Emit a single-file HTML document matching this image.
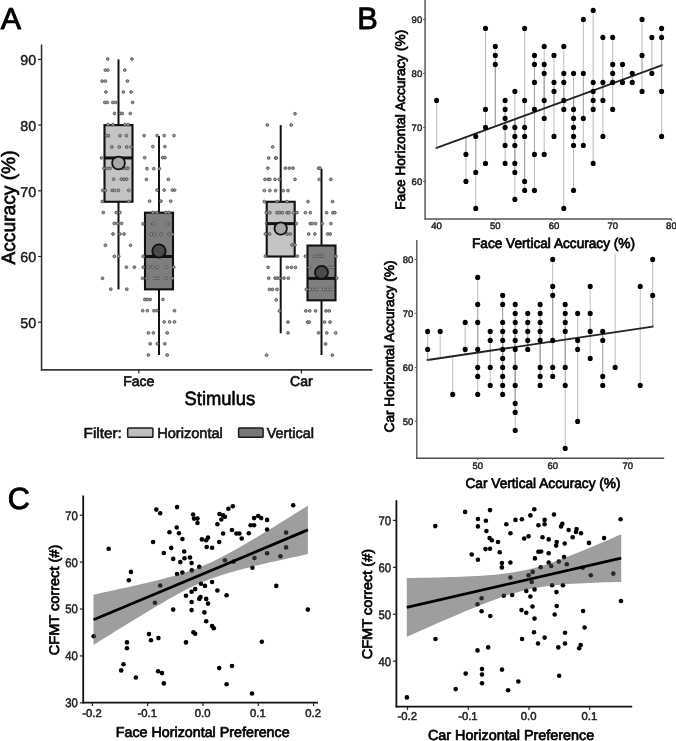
<!DOCTYPE html>
<html><head><meta charset="utf-8"><title>Figure</title>
<style>
html,body{margin:0;padding:0;background:#fff;}
body{width:676px;height:741px;overflow:hidden;}
svg{display:block;font-family:"Liberation Sans", sans-serif;will-change:transform;text-rendering:geometricPrecision;}
</style></head>
<body>
<svg width="676" height="741" viewBox="0 0 676 741">
<rect width="676" height="741" fill="#fff"/>
<text x="0.70" y="28.70" font-size="30.4" font-weight="normal" fill="#000" text-anchor="start" stroke="#000" stroke-width="0.9">A</text>
<line x1="41.55" y1="44.50" x2="41.55" y2="370.80" stroke="#2a2a2a" stroke-width="1.5" />
<line x1="40.85" y1="369.90" x2="372.40" y2="369.90" stroke="#3a3a3a" stroke-width="1.8" />
<line x1="38.15" y1="59.40" x2="41.55" y2="59.40" stroke="#222" stroke-width="1.2" />
<text x="36.20" y="65.10" font-size="14.25" font-weight="normal" fill="#1a1a1a" text-anchor="end" stroke="#1a1a1a" stroke-width="0.45">90</text>
<line x1="38.15" y1="125.10" x2="41.55" y2="125.10" stroke="#222" stroke-width="1.2" />
<text x="36.20" y="130.80" font-size="14.25" font-weight="normal" fill="#1a1a1a" text-anchor="end" stroke="#1a1a1a" stroke-width="0.45">80</text>
<line x1="38.15" y1="190.80" x2="41.55" y2="190.80" stroke="#222" stroke-width="1.2" />
<text x="36.20" y="196.50" font-size="14.25" font-weight="normal" fill="#1a1a1a" text-anchor="end" stroke="#1a1a1a" stroke-width="0.45">70</text>
<line x1="38.15" y1="256.50" x2="41.55" y2="256.50" stroke="#222" stroke-width="1.2" />
<text x="36.20" y="262.20" font-size="14.25" font-weight="normal" fill="#1a1a1a" text-anchor="end" stroke="#1a1a1a" stroke-width="0.45">60</text>
<line x1="38.15" y1="322.20" x2="41.55" y2="322.20" stroke="#222" stroke-width="1.2" />
<text x="36.20" y="327.90" font-size="14.25" font-weight="normal" fill="#1a1a1a" text-anchor="end" stroke="#1a1a1a" stroke-width="0.45">50</text>
<line x1="138.80" y1="369.90" x2="138.80" y2="373.40" stroke="#222" stroke-width="1.2" />
<text x="138.80" y="386.30" font-size="14.0" font-weight="normal" fill="#111" text-anchor="middle" stroke="#111" stroke-width="0.7">Face</text>
<line x1="301.40" y1="369.90" x2="301.40" y2="373.40" stroke="#222" stroke-width="1.2" />
<text x="301.40" y="386.30" font-size="14.0" font-weight="normal" fill="#111" text-anchor="middle" stroke="#111" stroke-width="0.7">Car</text>
<text transform="translate(14.60,207.50) rotate(-90)" x="0" y="0" font-size="19.2" font-weight="normal" fill="#000" text-anchor="middle" stroke="#000" stroke-width="0.65">Accuracy (%)</text>
<text x="184.60" y="405.30" font-size="19.2" font-weight="normal" fill="#000" text-anchor="start" textLength="70.50" lengthAdjust="spacingAndGlyphs" stroke="#000" stroke-width="0.6">Stimulus</text>
<text x="83.60" y="438.30" font-size="14.4" font-weight="normal" fill="#111" text-anchor="start" textLength="38.20" lengthAdjust="spacingAndGlyphs" stroke="#111" stroke-width="0.6">Filter:</text>
<rect x="127.7" y="428.0" width="25.2" height="9.3" rx="0.8" fill="#bdbdbd" stroke="#1a1a1a" stroke-width="1.5"/>
<text x="157.20" y="438.30" font-size="14.4" font-weight="normal" fill="#111" text-anchor="start" textLength="65.60" lengthAdjust="spacingAndGlyphs" stroke="#111" stroke-width="0.6">Horizontal</text>
<rect x="238.6" y="428.0" width="24.5" height="9.3" rx="0.8" fill="#777" stroke="#1a1a1a" stroke-width="1.5"/>
<text x="266.70" y="438.30" font-size="14.4" font-weight="normal" fill="#111" text-anchor="start" textLength="47.30" lengthAdjust="spacingAndGlyphs" stroke="#111" stroke-width="0.6">Vertical</text>
<line x1="118.50" y1="59.40" x2="118.50" y2="289.35" stroke="#111" stroke-width="2.0" />
<rect x="104.50" y="125.10" width="28.00" height="76.67" fill="#c4c4c4" stroke="#111" stroke-width="2.1" />
<circle cx="107.70" cy="59.00" r="1.42" fill="#a0a0a0" stroke="#444" stroke-width="0.75" />
<circle cx="131.90" cy="59.00" r="1.42" fill="#a0a0a0" stroke="#444" stroke-width="0.75" />
<circle cx="105.40" cy="70.10" r="1.42" fill="#a0a0a0" stroke="#444" stroke-width="0.75" />
<circle cx="107.80" cy="70.10" r="1.42" fill="#a0a0a0" stroke="#444" stroke-width="0.75" />
<circle cx="124.80" cy="70.10" r="1.42" fill="#a0a0a0" stroke="#444" stroke-width="0.75" />
<circle cx="102.10" cy="81.10" r="1.42" fill="#a0a0a0" stroke="#444" stroke-width="0.75" />
<circle cx="105.40" cy="81.10" r="1.42" fill="#a0a0a0" stroke="#444" stroke-width="0.75" />
<circle cx="127.50" cy="81.10" r="1.42" fill="#a0a0a0" stroke="#444" stroke-width="0.75" />
<circle cx="105.90" cy="92.00" r="1.42" fill="#a0a0a0" stroke="#444" stroke-width="0.75" />
<circle cx="123.40" cy="92.00" r="1.42" fill="#a0a0a0" stroke="#444" stroke-width="0.75" />
<circle cx="131.10" cy="92.00" r="1.42" fill="#a0a0a0" stroke="#444" stroke-width="0.75" />
<circle cx="104.80" cy="102.40" r="1.42" fill="#a0a0a0" stroke="#444" stroke-width="0.75" />
<circle cx="107.40" cy="102.40" r="1.42" fill="#a0a0a0" stroke="#444" stroke-width="0.75" />
<circle cx="112.80" cy="102.40" r="1.42" fill="#a0a0a0" stroke="#444" stroke-width="0.75" />
<circle cx="115.70" cy="102.40" r="1.42" fill="#a0a0a0" stroke="#444" stroke-width="0.75" />
<circle cx="132.60" cy="102.40" r="1.42" fill="#a0a0a0" stroke="#444" stroke-width="0.75" />
<circle cx="114.50" cy="113.50" r="1.42" fill="#a0a0a0" stroke="#444" stroke-width="0.75" />
<circle cx="120.40" cy="113.50" r="1.42" fill="#a0a0a0" stroke="#444" stroke-width="0.75" />
<circle cx="122.30" cy="113.50" r="1.42" fill="#a0a0a0" stroke="#444" stroke-width="0.75" />
<circle cx="130.30" cy="113.50" r="1.42" fill="#a0a0a0" stroke="#444" stroke-width="0.75" />
<circle cx="108.00" cy="124.70" r="1.42" fill="#a0a0a0" stroke="#444" stroke-width="0.75" />
<circle cx="113.00" cy="124.70" r="1.42" fill="#a0a0a0" stroke="#444" stroke-width="0.75" />
<circle cx="125.00" cy="124.70" r="1.42" fill="#a0a0a0" stroke="#444" stroke-width="0.75" />
<circle cx="128.00" cy="124.70" r="1.42" fill="#a0a0a0" stroke="#444" stroke-width="0.75" />
<circle cx="106.50" cy="135.70" r="1.42" fill="#a0a0a0" stroke="#444" stroke-width="0.75" />
<circle cx="108.50" cy="135.70" r="1.42" fill="#a0a0a0" stroke="#444" stroke-width="0.75" />
<circle cx="120.00" cy="135.70" r="1.42" fill="#a0a0a0" stroke="#444" stroke-width="0.75" />
<circle cx="126.40" cy="135.70" r="1.42" fill="#a0a0a0" stroke="#444" stroke-width="0.75" />
<circle cx="111.80" cy="147.00" r="1.42" fill="#a0a0a0" stroke="#444" stroke-width="0.75" />
<circle cx="119.30" cy="147.00" r="1.42" fill="#a0a0a0" stroke="#444" stroke-width="0.75" />
<circle cx="126.70" cy="147.00" r="1.42" fill="#a0a0a0" stroke="#444" stroke-width="0.75" />
<circle cx="131.10" cy="147.00" r="1.42" fill="#a0a0a0" stroke="#444" stroke-width="0.75" />
<circle cx="101.50" cy="157.90" r="1.42" fill="#a0a0a0" stroke="#444" stroke-width="0.75" />
<circle cx="119.30" cy="157.90" r="1.42" fill="#a0a0a0" stroke="#444" stroke-width="0.75" />
<circle cx="103.90" cy="168.30" r="1.42" fill="#a0a0a0" stroke="#444" stroke-width="0.75" />
<circle cx="107.40" cy="168.30" r="1.42" fill="#a0a0a0" stroke="#444" stroke-width="0.75" />
<circle cx="110.10" cy="168.30" r="1.42" fill="#a0a0a0" stroke="#444" stroke-width="0.75" />
<circle cx="123.40" cy="168.30" r="1.42" fill="#a0a0a0" stroke="#444" stroke-width="0.75" />
<circle cx="126.40" cy="168.30" r="1.42" fill="#a0a0a0" stroke="#444" stroke-width="0.75" />
<circle cx="128.10" cy="168.30" r="1.42" fill="#a0a0a0" stroke="#444" stroke-width="0.75" />
<circle cx="113.60" cy="179.20" r="1.42" fill="#a0a0a0" stroke="#444" stroke-width="0.75" />
<circle cx="121.30" cy="179.20" r="1.42" fill="#a0a0a0" stroke="#444" stroke-width="0.75" />
<circle cx="124.00" cy="179.20" r="1.42" fill="#a0a0a0" stroke="#444" stroke-width="0.75" />
<circle cx="126.70" cy="179.20" r="1.42" fill="#a0a0a0" stroke="#444" stroke-width="0.75" />
<circle cx="102.70" cy="190.40" r="1.42" fill="#a0a0a0" stroke="#444" stroke-width="0.75" />
<circle cx="105.40" cy="190.40" r="1.42" fill="#a0a0a0" stroke="#444" stroke-width="0.75" />
<circle cx="112.20" cy="190.40" r="1.42" fill="#a0a0a0" stroke="#444" stroke-width="0.75" />
<circle cx="114.50" cy="190.40" r="1.42" fill="#a0a0a0" stroke="#444" stroke-width="0.75" />
<circle cx="118.40" cy="190.40" r="1.42" fill="#a0a0a0" stroke="#444" stroke-width="0.75" />
<circle cx="128.70" cy="190.40" r="1.42" fill="#a0a0a0" stroke="#444" stroke-width="0.75" />
<circle cx="102.30" cy="201.50" r="1.42" fill="#a0a0a0" stroke="#444" stroke-width="0.75" />
<circle cx="128.70" cy="201.50" r="1.42" fill="#a0a0a0" stroke="#444" stroke-width="0.75" />
<circle cx="103.30" cy="212.50" r="1.42" fill="#a0a0a0" stroke="#444" stroke-width="0.75" />
<circle cx="116.10" cy="212.50" r="1.42" fill="#a0a0a0" stroke="#444" stroke-width="0.75" />
<circle cx="119.90" cy="212.50" r="1.42" fill="#a0a0a0" stroke="#444" stroke-width="0.75" />
<circle cx="114.30" cy="223.40" r="1.42" fill="#a0a0a0" stroke="#444" stroke-width="0.75" />
<circle cx="117.50" cy="223.40" r="1.42" fill="#a0a0a0" stroke="#444" stroke-width="0.75" />
<circle cx="121.60" cy="223.40" r="1.42" fill="#a0a0a0" stroke="#444" stroke-width="0.75" />
<circle cx="113.00" cy="234.00" r="1.42" fill="#a0a0a0" stroke="#444" stroke-width="0.75" />
<circle cx="119.90" cy="234.00" r="1.42" fill="#a0a0a0" stroke="#444" stroke-width="0.75" />
<circle cx="124.00" cy="234.00" r="1.42" fill="#a0a0a0" stroke="#444" stroke-width="0.75" />
<circle cx="105.40" cy="245.30" r="1.42" fill="#a0a0a0" stroke="#444" stroke-width="0.75" />
<circle cx="130.50" cy="245.30" r="1.42" fill="#a0a0a0" stroke="#444" stroke-width="0.75" />
<circle cx="114.30" cy="256.30" r="1.42" fill="#a0a0a0" stroke="#444" stroke-width="0.75" />
<circle cx="118.70" cy="256.30" r="1.42" fill="#a0a0a0" stroke="#444" stroke-width="0.75" />
<circle cx="126.40" cy="267.20" r="1.42" fill="#a0a0a0" stroke="#444" stroke-width="0.75" />
<circle cx="134.40" cy="267.20" r="1.42" fill="#a0a0a0" stroke="#444" stroke-width="0.75" />
<circle cx="102.50" cy="278.30" r="1.42" fill="#a0a0a0" stroke="#444" stroke-width="0.75" />
<circle cx="110.80" cy="289.20" r="1.42" fill="#a0a0a0" stroke="#444" stroke-width="0.75" />
<circle cx="126.80" cy="289.20" r="1.42" fill="#a0a0a0" stroke="#444" stroke-width="0.75" />
<line x1="104.50" y1="157.95" x2="132.50" y2="157.95" stroke="#111" stroke-width="3.0" />
<circle cx="118.50" cy="163.00" r="6.4" fill="#a8a8a8" stroke="#111" stroke-width="1.8" />
<line x1="159.00" y1="136.07" x2="159.00" y2="355.05" stroke="#111" stroke-width="2.0" />
<rect x="145.00" y="212.68" width="28.00" height="76.67" fill="#7e7e7e" stroke="#111" stroke-width="2.1" />
<circle cx="144.10" cy="135.60" r="1.42" fill="#a0a0a0" stroke="#444" stroke-width="0.75" />
<circle cx="157.10" cy="135.60" r="1.42" fill="#a0a0a0" stroke="#444" stroke-width="0.75" />
<circle cx="164.20" cy="135.60" r="1.42" fill="#a0a0a0" stroke="#444" stroke-width="0.75" />
<circle cx="174.00" cy="135.60" r="1.42" fill="#a0a0a0" stroke="#444" stroke-width="0.75" />
<circle cx="152.90" cy="146.60" r="1.42" fill="#a0a0a0" stroke="#444" stroke-width="0.75" />
<circle cx="164.90" cy="146.60" r="1.42" fill="#a0a0a0" stroke="#444" stroke-width="0.75" />
<circle cx="144.70" cy="157.70" r="1.42" fill="#a0a0a0" stroke="#444" stroke-width="0.75" />
<circle cx="162.60" cy="157.70" r="1.42" fill="#a0a0a0" stroke="#444" stroke-width="0.75" />
<circle cx="164.90" cy="157.70" r="1.42" fill="#a0a0a0" stroke="#444" stroke-width="0.75" />
<circle cx="147.00" cy="168.70" r="1.42" fill="#a0a0a0" stroke="#444" stroke-width="0.75" />
<circle cx="153.80" cy="168.70" r="1.42" fill="#a0a0a0" stroke="#444" stroke-width="0.75" />
<circle cx="159.40" cy="168.70" r="1.42" fill="#a0a0a0" stroke="#444" stroke-width="0.75" />
<circle cx="146.40" cy="179.40" r="1.42" fill="#a0a0a0" stroke="#444" stroke-width="0.75" />
<circle cx="168.40" cy="179.40" r="1.42" fill="#a0a0a0" stroke="#444" stroke-width="0.75" />
<circle cx="157.10" cy="190.10" r="1.42" fill="#a0a0a0" stroke="#444" stroke-width="0.75" />
<circle cx="164.20" cy="190.10" r="1.42" fill="#a0a0a0" stroke="#444" stroke-width="0.75" />
<circle cx="172.30" cy="190.10" r="1.42" fill="#a0a0a0" stroke="#444" stroke-width="0.75" />
<circle cx="174.60" cy="190.10" r="1.42" fill="#a0a0a0" stroke="#444" stroke-width="0.75" />
<circle cx="149.60" cy="201.20" r="1.42" fill="#a0a0a0" stroke="#444" stroke-width="0.75" />
<circle cx="161.00" cy="201.20" r="1.42" fill="#a0a0a0" stroke="#444" stroke-width="0.75" />
<circle cx="170.70" cy="201.20" r="1.42" fill="#a0a0a0" stroke="#444" stroke-width="0.75" />
<circle cx="153.00" cy="212.50" r="1.42" fill="#a0a0a0" stroke="#444" stroke-width="0.75" />
<circle cx="157.00" cy="212.50" r="1.42" fill="#a0a0a0" stroke="#444" stroke-width="0.75" />
<circle cx="166.00" cy="212.50" r="1.42" fill="#a0a0a0" stroke="#444" stroke-width="0.75" />
<circle cx="169.00" cy="212.50" r="1.42" fill="#a0a0a0" stroke="#444" stroke-width="0.75" />
<circle cx="143.10" cy="223.90" r="1.42" fill="#a0a0a0" stroke="#444" stroke-width="0.75" />
<circle cx="152.90" cy="223.90" r="1.42" fill="#a0a0a0" stroke="#444" stroke-width="0.75" />
<circle cx="167.50" cy="223.90" r="1.42" fill="#a0a0a0" stroke="#444" stroke-width="0.75" />
<circle cx="151.20" cy="234.30" r="1.42" fill="#a0a0a0" stroke="#444" stroke-width="0.75" />
<circle cx="154.50" cy="234.30" r="1.42" fill="#a0a0a0" stroke="#444" stroke-width="0.75" />
<circle cx="161.00" cy="234.30" r="1.42" fill="#a0a0a0" stroke="#444" stroke-width="0.75" />
<circle cx="169.10" cy="234.30" r="1.42" fill="#a0a0a0" stroke="#444" stroke-width="0.75" />
<circle cx="172.30" cy="234.30" r="1.42" fill="#a0a0a0" stroke="#444" stroke-width="0.75" />
<circle cx="143.30" cy="256.30" r="1.42" fill="#a0a0a0" stroke="#444" stroke-width="0.75" />
<circle cx="143.30" cy="267.20" r="1.42" fill="#a0a0a0" stroke="#444" stroke-width="0.75" />
<circle cx="148.30" cy="267.20" r="1.42" fill="#a0a0a0" stroke="#444" stroke-width="0.75" />
<circle cx="152.60" cy="267.20" r="1.42" fill="#a0a0a0" stroke="#444" stroke-width="0.75" />
<circle cx="157.10" cy="267.20" r="1.42" fill="#a0a0a0" stroke="#444" stroke-width="0.75" />
<circle cx="166.60" cy="267.20" r="1.42" fill="#a0a0a0" stroke="#444" stroke-width="0.75" />
<circle cx="173.70" cy="267.20" r="1.42" fill="#a0a0a0" stroke="#444" stroke-width="0.75" />
<circle cx="142.60" cy="278.30" r="1.42" fill="#a0a0a0" stroke="#444" stroke-width="0.75" />
<circle cx="146.60" cy="278.30" r="1.42" fill="#a0a0a0" stroke="#444" stroke-width="0.75" />
<circle cx="155.10" cy="278.30" r="1.42" fill="#a0a0a0" stroke="#444" stroke-width="0.75" />
<circle cx="158.10" cy="278.30" r="1.42" fill="#a0a0a0" stroke="#444" stroke-width="0.75" />
<circle cx="166.00" cy="278.30" r="1.42" fill="#a0a0a0" stroke="#444" stroke-width="0.75" />
<circle cx="172.10" cy="278.30" r="1.42" fill="#a0a0a0" stroke="#444" stroke-width="0.75" />
<circle cx="144.80" cy="299.50" r="1.42" fill="#a0a0a0" stroke="#444" stroke-width="0.75" />
<circle cx="147.20" cy="299.50" r="1.42" fill="#a0a0a0" stroke="#444" stroke-width="0.75" />
<circle cx="150.20" cy="299.50" r="1.42" fill="#a0a0a0" stroke="#444" stroke-width="0.75" />
<circle cx="163.00" cy="299.50" r="1.42" fill="#a0a0a0" stroke="#444" stroke-width="0.75" />
<circle cx="142.70" cy="310.70" r="1.42" fill="#a0a0a0" stroke="#444" stroke-width="0.75" />
<circle cx="147.40" cy="310.70" r="1.42" fill="#a0a0a0" stroke="#444" stroke-width="0.75" />
<circle cx="153.90" cy="310.70" r="1.42" fill="#a0a0a0" stroke="#444" stroke-width="0.75" />
<circle cx="156.90" cy="310.70" r="1.42" fill="#a0a0a0" stroke="#444" stroke-width="0.75" />
<circle cx="174.50" cy="310.70" r="1.42" fill="#a0a0a0" stroke="#444" stroke-width="0.75" />
<circle cx="164.20" cy="321.90" r="1.42" fill="#a0a0a0" stroke="#444" stroke-width="0.75" />
<circle cx="169.60" cy="321.90" r="1.42" fill="#a0a0a0" stroke="#444" stroke-width="0.75" />
<circle cx="174.50" cy="321.90" r="1.42" fill="#a0a0a0" stroke="#444" stroke-width="0.75" />
<circle cx="148.40" cy="332.90" r="1.42" fill="#a0a0a0" stroke="#444" stroke-width="0.75" />
<circle cx="153.30" cy="332.90" r="1.42" fill="#a0a0a0" stroke="#444" stroke-width="0.75" />
<circle cx="167.20" cy="332.90" r="1.42" fill="#a0a0a0" stroke="#444" stroke-width="0.75" />
<circle cx="150.20" cy="343.80" r="1.42" fill="#a0a0a0" stroke="#444" stroke-width="0.75" />
<circle cx="157.30" cy="343.80" r="1.42" fill="#a0a0a0" stroke="#444" stroke-width="0.75" />
<circle cx="164.80" cy="343.80" r="1.42" fill="#a0a0a0" stroke="#444" stroke-width="0.75" />
<circle cx="148.40" cy="355.00" r="1.42" fill="#a0a0a0" stroke="#444" stroke-width="0.75" />
<circle cx="167.20" cy="355.00" r="1.42" fill="#a0a0a0" stroke="#444" stroke-width="0.75" />
<line x1="145.00" y1="256.50" x2="173.00" y2="256.50" stroke="#111" stroke-width="3.0" />
<circle cx="159.00" cy="251.00" r="6.7" fill="#4a4a4a" stroke="#111" stroke-width="1.8" />
<line x1="280.70" y1="125.10" x2="280.70" y2="333.17" stroke="#111" stroke-width="2.0" />
<rect x="266.70" y="201.77" width="28.00" height="54.73" fill="#c4c4c4" stroke="#111" stroke-width="2.1" />
<circle cx="295.00" cy="113.70" r="1.42" fill="#a0a0a0" stroke="#444" stroke-width="0.75" />
<circle cx="267.30" cy="125.00" r="1.42" fill="#a0a0a0" stroke="#444" stroke-width="0.75" />
<circle cx="291.20" cy="125.00" r="1.42" fill="#a0a0a0" stroke="#444" stroke-width="0.75" />
<circle cx="272.70" cy="146.90" r="1.42" fill="#a0a0a0" stroke="#444" stroke-width="0.75" />
<circle cx="268.60" cy="158.00" r="1.42" fill="#a0a0a0" stroke="#444" stroke-width="0.75" />
<circle cx="275.60" cy="158.00" r="1.42" fill="#a0a0a0" stroke="#444" stroke-width="0.75" />
<circle cx="276.30" cy="158.00" r="1.42" fill="#a0a0a0" stroke="#444" stroke-width="0.75" />
<circle cx="267.90" cy="168.20" r="1.42" fill="#a0a0a0" stroke="#444" stroke-width="0.75" />
<circle cx="285.40" cy="168.20" r="1.42" fill="#a0a0a0" stroke="#444" stroke-width="0.75" />
<circle cx="289.40" cy="168.20" r="1.42" fill="#a0a0a0" stroke="#444" stroke-width="0.75" />
<circle cx="293.00" cy="168.20" r="1.42" fill="#a0a0a0" stroke="#444" stroke-width="0.75" />
<circle cx="265.00" cy="179.40" r="1.42" fill="#a0a0a0" stroke="#444" stroke-width="0.75" />
<circle cx="268.30" cy="179.40" r="1.42" fill="#a0a0a0" stroke="#444" stroke-width="0.75" />
<circle cx="269.90" cy="179.40" r="1.42" fill="#a0a0a0" stroke="#444" stroke-width="0.75" />
<circle cx="275.00" cy="179.40" r="1.42" fill="#a0a0a0" stroke="#444" stroke-width="0.75" />
<circle cx="279.20" cy="179.40" r="1.42" fill="#a0a0a0" stroke="#444" stroke-width="0.75" />
<circle cx="295.00" cy="179.40" r="1.42" fill="#a0a0a0" stroke="#444" stroke-width="0.75" />
<circle cx="264.30" cy="190.60" r="1.42" fill="#a0a0a0" stroke="#444" stroke-width="0.75" />
<circle cx="269.90" cy="190.60" r="1.42" fill="#a0a0a0" stroke="#444" stroke-width="0.75" />
<circle cx="275.60" cy="190.60" r="1.42" fill="#a0a0a0" stroke="#444" stroke-width="0.75" />
<circle cx="283.20" cy="190.60" r="1.42" fill="#a0a0a0" stroke="#444" stroke-width="0.75" />
<circle cx="288.00" cy="190.60" r="1.42" fill="#a0a0a0" stroke="#444" stroke-width="0.75" />
<circle cx="264.30" cy="201.60" r="1.42" fill="#a0a0a0" stroke="#444" stroke-width="0.75" />
<circle cx="277.00" cy="201.60" r="1.42" fill="#a0a0a0" stroke="#444" stroke-width="0.75" />
<circle cx="287.00" cy="201.60" r="1.42" fill="#a0a0a0" stroke="#444" stroke-width="0.75" />
<circle cx="266.30" cy="212.70" r="1.42" fill="#a0a0a0" stroke="#444" stroke-width="0.75" />
<circle cx="269.90" cy="212.70" r="1.42" fill="#a0a0a0" stroke="#444" stroke-width="0.75" />
<circle cx="277.00" cy="212.70" r="1.42" fill="#a0a0a0" stroke="#444" stroke-width="0.75" />
<circle cx="279.60" cy="212.70" r="1.42" fill="#a0a0a0" stroke="#444" stroke-width="0.75" />
<circle cx="282.30" cy="212.70" r="1.42" fill="#a0a0a0" stroke="#444" stroke-width="0.75" />
<circle cx="287.00" cy="212.70" r="1.42" fill="#a0a0a0" stroke="#444" stroke-width="0.75" />
<circle cx="289.00" cy="212.70" r="1.42" fill="#a0a0a0" stroke="#444" stroke-width="0.75" />
<circle cx="293.60" cy="212.70" r="1.42" fill="#a0a0a0" stroke="#444" stroke-width="0.75" />
<circle cx="297.00" cy="212.70" r="1.42" fill="#a0a0a0" stroke="#444" stroke-width="0.75" />
<circle cx="266.70" cy="223.60" r="1.42" fill="#a0a0a0" stroke="#444" stroke-width="0.75" />
<circle cx="296.30" cy="223.60" r="1.42" fill="#a0a0a0" stroke="#444" stroke-width="0.75" />
<circle cx="265.40" cy="234.00" r="1.42" fill="#a0a0a0" stroke="#444" stroke-width="0.75" />
<circle cx="269.60" cy="234.00" r="1.42" fill="#a0a0a0" stroke="#444" stroke-width="0.75" />
<circle cx="287.00" cy="234.00" r="1.42" fill="#a0a0a0" stroke="#444" stroke-width="0.75" />
<circle cx="290.30" cy="234.00" r="1.42" fill="#a0a0a0" stroke="#444" stroke-width="0.75" />
<circle cx="292.00" cy="244.90" r="1.42" fill="#a0a0a0" stroke="#444" stroke-width="0.75" />
<circle cx="295.00" cy="244.90" r="1.42" fill="#a0a0a0" stroke="#444" stroke-width="0.75" />
<circle cx="265.40" cy="256.20" r="1.42" fill="#a0a0a0" stroke="#444" stroke-width="0.75" />
<circle cx="297.30" cy="256.20" r="1.42" fill="#a0a0a0" stroke="#444" stroke-width="0.75" />
<circle cx="268.10" cy="267.40" r="1.42" fill="#a0a0a0" stroke="#444" stroke-width="0.75" />
<circle cx="287.40" cy="267.40" r="1.42" fill="#a0a0a0" stroke="#444" stroke-width="0.75" />
<circle cx="291.40" cy="267.40" r="1.42" fill="#a0a0a0" stroke="#444" stroke-width="0.75" />
<circle cx="295.40" cy="267.40" r="1.42" fill="#a0a0a0" stroke="#444" stroke-width="0.75" />
<circle cx="268.70" cy="278.20" r="1.42" fill="#a0a0a0" stroke="#444" stroke-width="0.75" />
<circle cx="275.10" cy="278.20" r="1.42" fill="#a0a0a0" stroke="#444" stroke-width="0.75" />
<circle cx="277.30" cy="278.20" r="1.42" fill="#a0a0a0" stroke="#444" stroke-width="0.75" />
<circle cx="279.50" cy="278.20" r="1.42" fill="#a0a0a0" stroke="#444" stroke-width="0.75" />
<circle cx="284.00" cy="278.20" r="1.42" fill="#a0a0a0" stroke="#444" stroke-width="0.75" />
<circle cx="288.40" cy="278.20" r="1.42" fill="#a0a0a0" stroke="#444" stroke-width="0.75" />
<circle cx="269.40" cy="289.40" r="1.42" fill="#a0a0a0" stroke="#444" stroke-width="0.75" />
<circle cx="272.50" cy="289.40" r="1.42" fill="#a0a0a0" stroke="#444" stroke-width="0.75" />
<circle cx="277.00" cy="289.40" r="1.42" fill="#a0a0a0" stroke="#444" stroke-width="0.75" />
<circle cx="276.20" cy="299.80" r="1.42" fill="#a0a0a0" stroke="#444" stroke-width="0.75" />
<circle cx="279.50" cy="310.90" r="1.42" fill="#a0a0a0" stroke="#444" stroke-width="0.75" />
<circle cx="288.00" cy="322.10" r="1.42" fill="#a0a0a0" stroke="#444" stroke-width="0.75" />
<circle cx="288.00" cy="332.90" r="1.42" fill="#a0a0a0" stroke="#444" stroke-width="0.75" />
<circle cx="266.60" cy="355.20" r="1.42" fill="#a0a0a0" stroke="#444" stroke-width="0.75" />
<line x1="266.70" y1="223.65" x2="294.70" y2="223.65" stroke="#111" stroke-width="3.0" />
<circle cx="280.70" cy="228.50" r="6.2" fill="#a8a8a8" stroke="#111" stroke-width="1.8" />
<line x1="321.50" y1="168.92" x2="321.50" y2="355.05" stroke="#111" stroke-width="2.0" />
<rect x="307.50" y="245.53" width="28.00" height="54.79" fill="#7e7e7e" stroke="#111" stroke-width="2.1" />
<circle cx="318.60" cy="168.20" r="1.42" fill="#a0a0a0" stroke="#444" stroke-width="0.75" />
<circle cx="320.00" cy="168.20" r="1.42" fill="#a0a0a0" stroke="#444" stroke-width="0.75" />
<circle cx="319.30" cy="179.40" r="1.42" fill="#a0a0a0" stroke="#444" stroke-width="0.75" />
<circle cx="330.90" cy="179.40" r="1.42" fill="#a0a0a0" stroke="#444" stroke-width="0.75" />
<circle cx="308.00" cy="201.60" r="1.42" fill="#a0a0a0" stroke="#444" stroke-width="0.75" />
<circle cx="332.50" cy="201.60" r="1.42" fill="#a0a0a0" stroke="#444" stroke-width="0.75" />
<circle cx="305.30" cy="212.70" r="1.42" fill="#a0a0a0" stroke="#444" stroke-width="0.75" />
<circle cx="310.30" cy="212.70" r="1.42" fill="#a0a0a0" stroke="#444" stroke-width="0.75" />
<circle cx="326.60" cy="212.70" r="1.42" fill="#a0a0a0" stroke="#444" stroke-width="0.75" />
<circle cx="332.90" cy="212.70" r="1.42" fill="#a0a0a0" stroke="#444" stroke-width="0.75" />
<circle cx="334.90" cy="212.70" r="1.42" fill="#a0a0a0" stroke="#444" stroke-width="0.75" />
<circle cx="310.30" cy="223.60" r="1.42" fill="#a0a0a0" stroke="#444" stroke-width="0.75" />
<circle cx="312.30" cy="223.60" r="1.42" fill="#a0a0a0" stroke="#444" stroke-width="0.75" />
<circle cx="315.60" cy="223.60" r="1.42" fill="#a0a0a0" stroke="#444" stroke-width="0.75" />
<circle cx="322.20" cy="223.60" r="1.42" fill="#a0a0a0" stroke="#444" stroke-width="0.75" />
<circle cx="330.90" cy="223.60" r="1.42" fill="#a0a0a0" stroke="#444" stroke-width="0.75" />
<circle cx="308.70" cy="234.00" r="1.42" fill="#a0a0a0" stroke="#444" stroke-width="0.75" />
<circle cx="314.90" cy="234.00" r="1.42" fill="#a0a0a0" stroke="#444" stroke-width="0.75" />
<circle cx="327.60" cy="234.00" r="1.42" fill="#a0a0a0" stroke="#444" stroke-width="0.75" />
<circle cx="330.20" cy="234.00" r="1.42" fill="#a0a0a0" stroke="#444" stroke-width="0.75" />
<circle cx="305.50" cy="256.20" r="1.42" fill="#a0a0a0" stroke="#444" stroke-width="0.75" />
<circle cx="314.40" cy="256.20" r="1.42" fill="#a0a0a0" stroke="#444" stroke-width="0.75" />
<circle cx="317.40" cy="256.20" r="1.42" fill="#a0a0a0" stroke="#444" stroke-width="0.75" />
<circle cx="320.40" cy="256.20" r="1.42" fill="#a0a0a0" stroke="#444" stroke-width="0.75" />
<circle cx="321.90" cy="256.20" r="1.42" fill="#a0a0a0" stroke="#444" stroke-width="0.75" />
<circle cx="336.00" cy="256.20" r="1.42" fill="#a0a0a0" stroke="#444" stroke-width="0.75" />
<circle cx="309.20" cy="267.40" r="1.42" fill="#a0a0a0" stroke="#444" stroke-width="0.75" />
<circle cx="324.80" cy="267.40" r="1.42" fill="#a0a0a0" stroke="#444" stroke-width="0.75" />
<circle cx="329.30" cy="267.40" r="1.42" fill="#a0a0a0" stroke="#444" stroke-width="0.75" />
<circle cx="333.00" cy="267.40" r="1.42" fill="#a0a0a0" stroke="#444" stroke-width="0.75" />
<circle cx="336.70" cy="278.20" r="1.42" fill="#a0a0a0" stroke="#444" stroke-width="0.75" />
<circle cx="306.30" cy="289.40" r="1.42" fill="#a0a0a0" stroke="#444" stroke-width="0.75" />
<circle cx="310.00" cy="289.40" r="1.42" fill="#a0a0a0" stroke="#444" stroke-width="0.75" />
<circle cx="313.00" cy="289.40" r="1.42" fill="#a0a0a0" stroke="#444" stroke-width="0.75" />
<circle cx="316.70" cy="289.40" r="1.42" fill="#a0a0a0" stroke="#444" stroke-width="0.75" />
<circle cx="323.60" cy="289.40" r="1.42" fill="#a0a0a0" stroke="#444" stroke-width="0.75" />
<circle cx="327.80" cy="289.40" r="1.42" fill="#a0a0a0" stroke="#444" stroke-width="0.75" />
<circle cx="330.80" cy="289.40" r="1.42" fill="#a0a0a0" stroke="#444" stroke-width="0.75" />
<circle cx="305.80" cy="310.90" r="1.42" fill="#a0a0a0" stroke="#444" stroke-width="0.75" />
<circle cx="309.70" cy="310.90" r="1.42" fill="#a0a0a0" stroke="#444" stroke-width="0.75" />
<circle cx="315.60" cy="310.90" r="1.42" fill="#a0a0a0" stroke="#444" stroke-width="0.75" />
<circle cx="326.00" cy="310.90" r="1.42" fill="#a0a0a0" stroke="#444" stroke-width="0.75" />
<circle cx="329.30" cy="310.90" r="1.42" fill="#a0a0a0" stroke="#444" stroke-width="0.75" />
<circle cx="307.70" cy="322.10" r="1.42" fill="#a0a0a0" stroke="#444" stroke-width="0.75" />
<circle cx="309.20" cy="322.10" r="1.42" fill="#a0a0a0" stroke="#444" stroke-width="0.75" />
<circle cx="324.50" cy="322.10" r="1.42" fill="#a0a0a0" stroke="#444" stroke-width="0.75" />
<circle cx="330.00" cy="322.10" r="1.42" fill="#a0a0a0" stroke="#444" stroke-width="0.75" />
<circle cx="318.60" cy="332.90" r="1.42" fill="#a0a0a0" stroke="#444" stroke-width="0.75" />
<circle cx="326.80" cy="332.90" r="1.42" fill="#a0a0a0" stroke="#444" stroke-width="0.75" />
<circle cx="335.70" cy="332.90" r="1.42" fill="#a0a0a0" stroke="#444" stroke-width="0.75" />
<circle cx="325.60" cy="344.00" r="1.42" fill="#a0a0a0" stroke="#444" stroke-width="0.75" />
<circle cx="332.30" cy="355.20" r="1.42" fill="#a0a0a0" stroke="#444" stroke-width="0.75" />
<line x1="307.50" y1="278.38" x2="335.50" y2="278.38" stroke="#111" stroke-width="3.0" />
<circle cx="321.50" cy="272.40" r="6.5" fill="#4a4a4a" stroke="#111" stroke-width="1.8" />
<text x="357.30" y="28.80" font-size="30.8" font-weight="normal" fill="#000" text-anchor="start" stroke="#000" stroke-width="0.9">B</text>
<line x1="425.10" y1="0.00" x2="425.10" y2="219.60" stroke="#5a5a5a" stroke-width="1.5" />
<line x1="424.40" y1="218.90" x2="671.50" y2="218.90" stroke="#555" stroke-width="1.5" />
<line x1="423.00" y1="19.40" x2="425.10" y2="19.40" stroke="#555" stroke-width="1.0" />
<text x="422.20" y="23.10" font-size="9.5" font-weight="normal" fill="#222" text-anchor="end" stroke="#222" stroke-width="0.45">90</text>
<line x1="423.00" y1="73.40" x2="425.10" y2="73.40" stroke="#555" stroke-width="1.0" />
<text x="422.20" y="77.10" font-size="9.5" font-weight="normal" fill="#222" text-anchor="end" stroke="#222" stroke-width="0.45">80</text>
<line x1="423.00" y1="127.40" x2="425.10" y2="127.40" stroke="#555" stroke-width="1.0" />
<text x="422.20" y="131.10" font-size="9.5" font-weight="normal" fill="#222" text-anchor="end" stroke="#222" stroke-width="0.45">70</text>
<line x1="423.00" y1="181.40" x2="425.10" y2="181.40" stroke="#555" stroke-width="1.0" />
<text x="422.20" y="185.10" font-size="9.5" font-weight="normal" fill="#222" text-anchor="end" stroke="#222" stroke-width="0.45">60</text>
<line x1="436.60" y1="218.90" x2="436.60" y2="220.60" stroke="#555" stroke-width="1.0" />
<text x="436.60" y="229.10" font-size="9.5" font-weight="normal" fill="#222" text-anchor="middle" stroke="#222" stroke-width="0.45">40</text>
<line x1="495.30" y1="218.90" x2="495.30" y2="220.60" stroke="#555" stroke-width="1.0" />
<text x="495.30" y="229.10" font-size="9.5" font-weight="normal" fill="#222" text-anchor="middle" stroke="#222" stroke-width="0.45">50</text>
<line x1="554.00" y1="218.90" x2="554.00" y2="220.60" stroke="#555" stroke-width="1.0" />
<text x="554.00" y="229.10" font-size="9.5" font-weight="normal" fill="#222" text-anchor="middle" stroke="#222" stroke-width="0.45">60</text>
<line x1="612.70" y1="218.90" x2="612.70" y2="220.60" stroke="#555" stroke-width="1.0" />
<text x="612.70" y="229.10" font-size="9.5" font-weight="normal" fill="#222" text-anchor="middle" stroke="#222" stroke-width="0.45">70</text>
<line x1="671.40" y1="218.90" x2="671.40" y2="220.60" stroke="#555" stroke-width="1.0" />
<text x="671.40" y="229.10" font-size="9.5" font-weight="normal" fill="#222" text-anchor="middle" stroke="#222" stroke-width="0.45">80</text>
<line x1="436.60" y1="100.40" x2="436.60" y2="147.92" stroke="#9a9a9a" stroke-width="1.0" stroke-opacity="0.65"/>
<line x1="465.95" y1="154.40" x2="465.95" y2="137.14" stroke="#9a9a9a" stroke-width="1.0" stroke-opacity="0.65"/>
<line x1="465.95" y1="181.40" x2="465.95" y2="137.14" stroke="#9a9a9a" stroke-width="1.0" stroke-opacity="0.65"/>
<line x1="475.75" y1="136.42" x2="475.75" y2="133.54" stroke="#9a9a9a" stroke-width="1.0" stroke-opacity="0.65"/>
<line x1="475.75" y1="172.38" x2="475.75" y2="133.54" stroke="#9a9a9a" stroke-width="1.0" stroke-opacity="0.65"/>
<line x1="475.75" y1="208.40" x2="475.75" y2="133.54" stroke="#9a9a9a" stroke-width="1.0" stroke-opacity="0.65"/>
<line x1="485.50" y1="28.42" x2="485.50" y2="129.96" stroke="#9a9a9a" stroke-width="1.0" stroke-opacity="0.65"/>
<line x1="485.50" y1="109.42" x2="485.50" y2="129.96" stroke="#9a9a9a" stroke-width="1.0" stroke-opacity="0.65"/>
<line x1="485.50" y1="127.40" x2="485.50" y2="129.96" stroke="#9a9a9a" stroke-width="1.0" stroke-opacity="0.65"/>
<line x1="485.50" y1="163.42" x2="485.50" y2="129.96" stroke="#9a9a9a" stroke-width="1.0" stroke-opacity="0.65"/>
<line x1="495.30" y1="46.40" x2="495.30" y2="126.37" stroke="#9a9a9a" stroke-width="1.0" stroke-opacity="0.65"/>
<line x1="495.30" y1="55.42" x2="495.30" y2="126.37" stroke="#9a9a9a" stroke-width="1.0" stroke-opacity="0.65"/>
<line x1="495.30" y1="64.38" x2="495.30" y2="126.37" stroke="#9a9a9a" stroke-width="1.0" stroke-opacity="0.65"/>
<line x1="505.10" y1="100.40" x2="505.10" y2="122.77" stroke="#9a9a9a" stroke-width="1.0" stroke-opacity="0.65"/>
<line x1="505.10" y1="109.42" x2="505.10" y2="122.77" stroke="#9a9a9a" stroke-width="1.0" stroke-opacity="0.65"/>
<line x1="505.10" y1="118.38" x2="505.10" y2="122.77" stroke="#9a9a9a" stroke-width="1.0" stroke-opacity="0.65"/>
<line x1="505.10" y1="127.40" x2="505.10" y2="122.77" stroke="#9a9a9a" stroke-width="1.0" stroke-opacity="0.65"/>
<line x1="505.10" y1="145.38" x2="505.10" y2="122.77" stroke="#9a9a9a" stroke-width="1.0" stroke-opacity="0.65"/>
<line x1="505.10" y1="163.42" x2="505.10" y2="122.77" stroke="#9a9a9a" stroke-width="1.0" stroke-opacity="0.65"/>
<line x1="514.85" y1="91.38" x2="514.85" y2="119.19" stroke="#9a9a9a" stroke-width="1.0" stroke-opacity="0.65"/>
<line x1="514.85" y1="127.40" x2="514.85" y2="119.19" stroke="#9a9a9a" stroke-width="1.0" stroke-opacity="0.65"/>
<line x1="514.85" y1="136.42" x2="514.85" y2="119.19" stroke="#9a9a9a" stroke-width="1.0" stroke-opacity="0.65"/>
<line x1="514.85" y1="145.38" x2="514.85" y2="119.19" stroke="#9a9a9a" stroke-width="1.0" stroke-opacity="0.65"/>
<line x1="514.85" y1="163.42" x2="514.85" y2="119.19" stroke="#9a9a9a" stroke-width="1.0" stroke-opacity="0.65"/>
<line x1="514.85" y1="172.38" x2="514.85" y2="119.19" stroke="#9a9a9a" stroke-width="1.0" stroke-opacity="0.65"/>
<line x1="514.85" y1="199.38" x2="514.85" y2="119.19" stroke="#9a9a9a" stroke-width="1.0" stroke-opacity="0.65"/>
<line x1="524.65" y1="28.42" x2="524.65" y2="115.59" stroke="#9a9a9a" stroke-width="1.0" stroke-opacity="0.65"/>
<line x1="524.65" y1="100.40" x2="524.65" y2="115.59" stroke="#9a9a9a" stroke-width="1.0" stroke-opacity="0.65"/>
<line x1="524.65" y1="127.40" x2="524.65" y2="115.59" stroke="#9a9a9a" stroke-width="1.0" stroke-opacity="0.65"/>
<line x1="524.65" y1="136.42" x2="524.65" y2="115.59" stroke="#9a9a9a" stroke-width="1.0" stroke-opacity="0.65"/>
<line x1="524.65" y1="181.40" x2="524.65" y2="115.59" stroke="#9a9a9a" stroke-width="1.0" stroke-opacity="0.65"/>
<line x1="524.65" y1="190.42" x2="524.65" y2="115.59" stroke="#9a9a9a" stroke-width="1.0" stroke-opacity="0.65"/>
<line x1="534.45" y1="55.42" x2="534.45" y2="111.99" stroke="#9a9a9a" stroke-width="1.0" stroke-opacity="0.65"/>
<line x1="534.45" y1="64.38" x2="534.45" y2="111.99" stroke="#9a9a9a" stroke-width="1.0" stroke-opacity="0.65"/>
<line x1="534.45" y1="82.42" x2="534.45" y2="111.99" stroke="#9a9a9a" stroke-width="1.0" stroke-opacity="0.65"/>
<line x1="534.45" y1="109.42" x2="534.45" y2="111.99" stroke="#9a9a9a" stroke-width="1.0" stroke-opacity="0.65"/>
<line x1="534.45" y1="154.40" x2="534.45" y2="111.99" stroke="#9a9a9a" stroke-width="1.0" stroke-opacity="0.65"/>
<line x1="534.45" y1="190.42" x2="534.45" y2="111.99" stroke="#9a9a9a" stroke-width="1.0" stroke-opacity="0.65"/>
<line x1="544.20" y1="46.40" x2="544.20" y2="108.41" stroke="#9a9a9a" stroke-width="1.0" stroke-opacity="0.65"/>
<line x1="544.20" y1="64.38" x2="544.20" y2="108.41" stroke="#9a9a9a" stroke-width="1.0" stroke-opacity="0.65"/>
<line x1="544.20" y1="73.40" x2="544.20" y2="108.41" stroke="#9a9a9a" stroke-width="1.0" stroke-opacity="0.65"/>
<line x1="544.20" y1="100.40" x2="544.20" y2="108.41" stroke="#9a9a9a" stroke-width="1.0" stroke-opacity="0.65"/>
<line x1="544.20" y1="118.38" x2="544.20" y2="108.41" stroke="#9a9a9a" stroke-width="1.0" stroke-opacity="0.65"/>
<line x1="544.20" y1="154.40" x2="544.20" y2="108.41" stroke="#9a9a9a" stroke-width="1.0" stroke-opacity="0.65"/>
<line x1="554.00" y1="55.42" x2="554.00" y2="104.81" stroke="#9a9a9a" stroke-width="1.0" stroke-opacity="0.65"/>
<line x1="554.00" y1="82.42" x2="554.00" y2="104.81" stroke="#9a9a9a" stroke-width="1.0" stroke-opacity="0.65"/>
<line x1="554.00" y1="91.38" x2="554.00" y2="104.81" stroke="#9a9a9a" stroke-width="1.0" stroke-opacity="0.65"/>
<line x1="554.00" y1="136.42" x2="554.00" y2="104.81" stroke="#9a9a9a" stroke-width="1.0" stroke-opacity="0.65"/>
<line x1="563.80" y1="46.40" x2="563.80" y2="101.21" stroke="#9a9a9a" stroke-width="1.0" stroke-opacity="0.65"/>
<line x1="563.80" y1="73.40" x2="563.80" y2="101.21" stroke="#9a9a9a" stroke-width="1.0" stroke-opacity="0.65"/>
<line x1="563.80" y1="82.42" x2="563.80" y2="101.21" stroke="#9a9a9a" stroke-width="1.0" stroke-opacity="0.65"/>
<line x1="563.80" y1="100.40" x2="563.80" y2="101.21" stroke="#9a9a9a" stroke-width="1.0" stroke-opacity="0.65"/>
<line x1="563.80" y1="109.42" x2="563.80" y2="101.21" stroke="#9a9a9a" stroke-width="1.0" stroke-opacity="0.65"/>
<line x1="563.80" y1="208.40" x2="563.80" y2="101.21" stroke="#9a9a9a" stroke-width="1.0" stroke-opacity="0.65"/>
<line x1="573.55" y1="73.40" x2="573.55" y2="97.63" stroke="#9a9a9a" stroke-width="1.0" stroke-opacity="0.65"/>
<line x1="573.55" y1="109.42" x2="573.55" y2="97.63" stroke="#9a9a9a" stroke-width="1.0" stroke-opacity="0.65"/>
<line x1="573.55" y1="118.38" x2="573.55" y2="97.63" stroke="#9a9a9a" stroke-width="1.0" stroke-opacity="0.65"/>
<line x1="573.55" y1="127.40" x2="573.55" y2="97.63" stroke="#9a9a9a" stroke-width="1.0" stroke-opacity="0.65"/>
<line x1="573.55" y1="136.42" x2="573.55" y2="97.63" stroke="#9a9a9a" stroke-width="1.0" stroke-opacity="0.65"/>
<line x1="573.55" y1="145.38" x2="573.55" y2="97.63" stroke="#9a9a9a" stroke-width="1.0" stroke-opacity="0.65"/>
<line x1="573.55" y1="190.42" x2="573.55" y2="97.63" stroke="#9a9a9a" stroke-width="1.0" stroke-opacity="0.65"/>
<line x1="583.35" y1="19.40" x2="583.35" y2="94.03" stroke="#9a9a9a" stroke-width="1.0" stroke-opacity="0.65"/>
<line x1="583.35" y1="73.40" x2="583.35" y2="94.03" stroke="#9a9a9a" stroke-width="1.0" stroke-opacity="0.65"/>
<line x1="583.35" y1="118.38" x2="583.35" y2="94.03" stroke="#9a9a9a" stroke-width="1.0" stroke-opacity="0.65"/>
<line x1="583.35" y1="145.38" x2="583.35" y2="94.03" stroke="#9a9a9a" stroke-width="1.0" stroke-opacity="0.65"/>
<line x1="593.15" y1="10.38" x2="593.15" y2="90.43" stroke="#9a9a9a" stroke-width="1.0" stroke-opacity="0.65"/>
<line x1="593.15" y1="82.42" x2="593.15" y2="90.43" stroke="#9a9a9a" stroke-width="1.0" stroke-opacity="0.65"/>
<line x1="593.15" y1="91.38" x2="593.15" y2="90.43" stroke="#9a9a9a" stroke-width="1.0" stroke-opacity="0.65"/>
<line x1="593.15" y1="100.40" x2="593.15" y2="90.43" stroke="#9a9a9a" stroke-width="1.0" stroke-opacity="0.65"/>
<line x1="593.15" y1="109.42" x2="593.15" y2="90.43" stroke="#9a9a9a" stroke-width="1.0" stroke-opacity="0.65"/>
<line x1="593.15" y1="163.42" x2="593.15" y2="90.43" stroke="#9a9a9a" stroke-width="1.0" stroke-opacity="0.65"/>
<line x1="602.90" y1="37.38" x2="602.90" y2="86.85" stroke="#9a9a9a" stroke-width="1.0" stroke-opacity="0.65"/>
<line x1="602.90" y1="82.42" x2="602.90" y2="86.85" stroke="#9a9a9a" stroke-width="1.0" stroke-opacity="0.65"/>
<line x1="602.90" y1="100.40" x2="602.90" y2="86.85" stroke="#9a9a9a" stroke-width="1.0" stroke-opacity="0.65"/>
<line x1="602.90" y1="136.42" x2="602.90" y2="86.85" stroke="#9a9a9a" stroke-width="1.0" stroke-opacity="0.65"/>
<line x1="612.70" y1="37.38" x2="612.70" y2="83.26" stroke="#9a9a9a" stroke-width="1.0" stroke-opacity="0.65"/>
<line x1="612.70" y1="64.38" x2="612.70" y2="83.26" stroke="#9a9a9a" stroke-width="1.0" stroke-opacity="0.65"/>
<line x1="612.70" y1="73.40" x2="612.70" y2="83.26" stroke="#9a9a9a" stroke-width="1.0" stroke-opacity="0.65"/>
<line x1="612.70" y1="82.42" x2="612.70" y2="83.26" stroke="#9a9a9a" stroke-width="1.0" stroke-opacity="0.65"/>
<line x1="612.70" y1="109.42" x2="612.70" y2="83.26" stroke="#9a9a9a" stroke-width="1.0" stroke-opacity="0.65"/>
<line x1="622.50" y1="64.38" x2="622.50" y2="79.66" stroke="#9a9a9a" stroke-width="1.0" stroke-opacity="0.65"/>
<line x1="622.50" y1="82.42" x2="622.50" y2="79.66" stroke="#9a9a9a" stroke-width="1.0" stroke-opacity="0.65"/>
<line x1="632.25" y1="73.40" x2="632.25" y2="76.08" stroke="#9a9a9a" stroke-width="1.0" stroke-opacity="0.65"/>
<line x1="632.25" y1="82.42" x2="632.25" y2="76.08" stroke="#9a9a9a" stroke-width="1.0" stroke-opacity="0.65"/>
<line x1="642.05" y1="19.40" x2="642.05" y2="72.48" stroke="#9a9a9a" stroke-width="1.0" stroke-opacity="0.65"/>
<line x1="642.05" y1="55.42" x2="642.05" y2="72.48" stroke="#9a9a9a" stroke-width="1.0" stroke-opacity="0.65"/>
<line x1="642.05" y1="91.38" x2="642.05" y2="72.48" stroke="#9a9a9a" stroke-width="1.0" stroke-opacity="0.65"/>
<line x1="651.85" y1="37.38" x2="651.85" y2="68.88" stroke="#9a9a9a" stroke-width="1.0" stroke-opacity="0.65"/>
<line x1="651.85" y1="73.40" x2="651.85" y2="68.88" stroke="#9a9a9a" stroke-width="1.0" stroke-opacity="0.65"/>
<line x1="661.60" y1="28.42" x2="661.60" y2="65.30" stroke="#9a9a9a" stroke-width="1.0" stroke-opacity="0.65"/>
<line x1="661.60" y1="37.38" x2="661.60" y2="65.30" stroke="#9a9a9a" stroke-width="1.0" stroke-opacity="0.65"/>
<line x1="661.60" y1="91.38" x2="661.60" y2="65.30" stroke="#9a9a9a" stroke-width="1.0" stroke-opacity="0.65"/>
<line x1="661.60" y1="136.42" x2="661.60" y2="65.30" stroke="#9a9a9a" stroke-width="1.0" stroke-opacity="0.65"/>
<line x1="436.60" y1="147.92" x2="661.60" y2="65.30" stroke="#222" stroke-width="1.8" />
<circle cx="436.60" cy="147.92" r="1.2" fill="#555" stroke="none" stroke-width="0" />
<circle cx="661.60" cy="65.30" r="1.2" fill="#555" stroke="none" stroke-width="0" />
<circle cx="436.60" cy="100.40" r="2.55" fill="#000" stroke="none" stroke-width="0" />
<circle cx="465.95" cy="154.40" r="2.55" fill="#000" stroke="none" stroke-width="0" />
<circle cx="465.95" cy="181.40" r="2.55" fill="#000" stroke="none" stroke-width="0" />
<circle cx="475.75" cy="136.42" r="2.55" fill="#000" stroke="none" stroke-width="0" />
<circle cx="475.75" cy="172.38" r="2.55" fill="#000" stroke="none" stroke-width="0" />
<circle cx="475.75" cy="208.40" r="2.55" fill="#000" stroke="none" stroke-width="0" />
<circle cx="485.50" cy="28.42" r="2.55" fill="#000" stroke="none" stroke-width="0" />
<circle cx="485.50" cy="109.42" r="2.55" fill="#000" stroke="none" stroke-width="0" />
<circle cx="485.50" cy="127.40" r="2.55" fill="#000" stroke="none" stroke-width="0" />
<circle cx="485.50" cy="163.42" r="2.55" fill="#000" stroke="none" stroke-width="0" />
<circle cx="495.30" cy="46.40" r="2.55" fill="#000" stroke="none" stroke-width="0" />
<circle cx="495.30" cy="55.42" r="2.55" fill="#000" stroke="none" stroke-width="0" />
<circle cx="495.30" cy="64.38" r="2.55" fill="#000" stroke="none" stroke-width="0" />
<circle cx="505.10" cy="100.40" r="2.55" fill="#000" stroke="none" stroke-width="0" />
<circle cx="505.10" cy="109.42" r="2.55" fill="#000" stroke="none" stroke-width="0" />
<circle cx="505.10" cy="118.38" r="2.55" fill="#000" stroke="none" stroke-width="0" />
<circle cx="505.10" cy="127.40" r="2.55" fill="#000" stroke="none" stroke-width="0" />
<circle cx="505.10" cy="145.38" r="2.55" fill="#000" stroke="none" stroke-width="0" />
<circle cx="505.10" cy="163.42" r="2.55" fill="#000" stroke="none" stroke-width="0" />
<circle cx="514.85" cy="91.38" r="2.55" fill="#000" stroke="none" stroke-width="0" />
<circle cx="514.85" cy="127.40" r="2.55" fill="#000" stroke="none" stroke-width="0" />
<circle cx="514.85" cy="136.42" r="2.55" fill="#000" stroke="none" stroke-width="0" />
<circle cx="514.85" cy="145.38" r="2.55" fill="#000" stroke="none" stroke-width="0" />
<circle cx="514.85" cy="163.42" r="2.55" fill="#000" stroke="none" stroke-width="0" />
<circle cx="514.85" cy="172.38" r="2.55" fill="#000" stroke="none" stroke-width="0" />
<circle cx="514.85" cy="199.38" r="2.55" fill="#000" stroke="none" stroke-width="0" />
<circle cx="524.65" cy="28.42" r="2.55" fill="#000" stroke="none" stroke-width="0" />
<circle cx="524.65" cy="100.40" r="2.55" fill="#000" stroke="none" stroke-width="0" />
<circle cx="524.65" cy="127.40" r="2.55" fill="#000" stroke="none" stroke-width="0" />
<circle cx="524.65" cy="136.42" r="2.55" fill="#000" stroke="none" stroke-width="0" />
<circle cx="524.65" cy="181.40" r="2.55" fill="#000" stroke="none" stroke-width="0" />
<circle cx="524.65" cy="190.42" r="2.55" fill="#000" stroke="none" stroke-width="0" />
<circle cx="534.45" cy="55.42" r="2.55" fill="#000" stroke="none" stroke-width="0" />
<circle cx="534.45" cy="64.38" r="2.55" fill="#000" stroke="none" stroke-width="0" />
<circle cx="534.45" cy="82.42" r="2.55" fill="#000" stroke="none" stroke-width="0" />
<circle cx="534.45" cy="109.42" r="2.55" fill="#000" stroke="none" stroke-width="0" />
<circle cx="534.45" cy="154.40" r="2.55" fill="#000" stroke="none" stroke-width="0" />
<circle cx="534.45" cy="190.42" r="2.55" fill="#000" stroke="none" stroke-width="0" />
<circle cx="544.20" cy="46.40" r="2.55" fill="#000" stroke="none" stroke-width="0" />
<circle cx="544.20" cy="64.38" r="2.55" fill="#000" stroke="none" stroke-width="0" />
<circle cx="544.20" cy="73.40" r="2.55" fill="#000" stroke="none" stroke-width="0" />
<circle cx="544.20" cy="100.40" r="2.55" fill="#000" stroke="none" stroke-width="0" />
<circle cx="544.20" cy="118.38" r="2.55" fill="#000" stroke="none" stroke-width="0" />
<circle cx="544.20" cy="154.40" r="2.55" fill="#000" stroke="none" stroke-width="0" />
<circle cx="554.00" cy="55.42" r="2.55" fill="#000" stroke="none" stroke-width="0" />
<circle cx="554.00" cy="82.42" r="2.55" fill="#000" stroke="none" stroke-width="0" />
<circle cx="554.00" cy="91.38" r="2.55" fill="#000" stroke="none" stroke-width="0" />
<circle cx="554.00" cy="136.42" r="2.55" fill="#000" stroke="none" stroke-width="0" />
<circle cx="563.80" cy="46.40" r="2.55" fill="#000" stroke="none" stroke-width="0" />
<circle cx="563.80" cy="73.40" r="2.55" fill="#000" stroke="none" stroke-width="0" />
<circle cx="563.80" cy="82.42" r="2.55" fill="#000" stroke="none" stroke-width="0" />
<circle cx="563.80" cy="100.40" r="2.55" fill="#000" stroke="none" stroke-width="0" />
<circle cx="563.80" cy="109.42" r="2.55" fill="#000" stroke="none" stroke-width="0" />
<circle cx="563.80" cy="208.40" r="2.55" fill="#000" stroke="none" stroke-width="0" />
<circle cx="573.55" cy="73.40" r="2.55" fill="#000" stroke="none" stroke-width="0" />
<circle cx="573.55" cy="109.42" r="2.55" fill="#000" stroke="none" stroke-width="0" />
<circle cx="573.55" cy="118.38" r="2.55" fill="#000" stroke="none" stroke-width="0" />
<circle cx="573.55" cy="127.40" r="2.55" fill="#000" stroke="none" stroke-width="0" />
<circle cx="573.55" cy="136.42" r="2.55" fill="#000" stroke="none" stroke-width="0" />
<circle cx="573.55" cy="145.38" r="2.55" fill="#000" stroke="none" stroke-width="0" />
<circle cx="573.55" cy="190.42" r="2.55" fill="#000" stroke="none" stroke-width="0" />
<circle cx="583.35" cy="19.40" r="2.55" fill="#000" stroke="none" stroke-width="0" />
<circle cx="583.35" cy="73.40" r="2.55" fill="#000" stroke="none" stroke-width="0" />
<circle cx="583.35" cy="118.38" r="2.55" fill="#000" stroke="none" stroke-width="0" />
<circle cx="583.35" cy="145.38" r="2.55" fill="#000" stroke="none" stroke-width="0" />
<circle cx="593.15" cy="10.38" r="2.55" fill="#000" stroke="none" stroke-width="0" />
<circle cx="593.15" cy="82.42" r="2.55" fill="#000" stroke="none" stroke-width="0" />
<circle cx="593.15" cy="91.38" r="2.55" fill="#000" stroke="none" stroke-width="0" />
<circle cx="593.15" cy="100.40" r="2.55" fill="#000" stroke="none" stroke-width="0" />
<circle cx="593.15" cy="109.42" r="2.55" fill="#000" stroke="none" stroke-width="0" />
<circle cx="593.15" cy="163.42" r="2.55" fill="#000" stroke="none" stroke-width="0" />
<circle cx="602.90" cy="37.38" r="2.55" fill="#000" stroke="none" stroke-width="0" />
<circle cx="602.90" cy="82.42" r="2.55" fill="#000" stroke="none" stroke-width="0" />
<circle cx="602.90" cy="100.40" r="2.55" fill="#000" stroke="none" stroke-width="0" />
<circle cx="602.90" cy="136.42" r="2.55" fill="#000" stroke="none" stroke-width="0" />
<circle cx="612.70" cy="37.38" r="2.55" fill="#000" stroke="none" stroke-width="0" />
<circle cx="612.70" cy="64.38" r="2.55" fill="#000" stroke="none" stroke-width="0" />
<circle cx="612.70" cy="73.40" r="2.55" fill="#000" stroke="none" stroke-width="0" />
<circle cx="612.70" cy="82.42" r="2.55" fill="#000" stroke="none" stroke-width="0" />
<circle cx="612.70" cy="109.42" r="2.55" fill="#000" stroke="none" stroke-width="0" />
<circle cx="622.50" cy="64.38" r="2.55" fill="#000" stroke="none" stroke-width="0" />
<circle cx="622.50" cy="82.42" r="2.55" fill="#000" stroke="none" stroke-width="0" />
<circle cx="632.25" cy="73.40" r="2.55" fill="#000" stroke="none" stroke-width="0" />
<circle cx="632.25" cy="82.42" r="2.55" fill="#000" stroke="none" stroke-width="0" />
<circle cx="642.05" cy="19.40" r="2.55" fill="#000" stroke="none" stroke-width="0" />
<circle cx="642.05" cy="55.42" r="2.55" fill="#000" stroke="none" stroke-width="0" />
<circle cx="642.05" cy="91.38" r="2.55" fill="#000" stroke="none" stroke-width="0" />
<circle cx="651.85" cy="37.38" r="2.55" fill="#000" stroke="none" stroke-width="0" />
<circle cx="651.85" cy="73.40" r="2.55" fill="#000" stroke="none" stroke-width="0" />
<circle cx="661.60" cy="28.42" r="2.55" fill="#000" stroke="none" stroke-width="0" />
<circle cx="661.60" cy="37.38" r="2.55" fill="#000" stroke="none" stroke-width="0" />
<circle cx="661.60" cy="91.38" r="2.55" fill="#000" stroke="none" stroke-width="0" />
<circle cx="661.60" cy="136.42" r="2.55" fill="#000" stroke="none" stroke-width="0" />
<text transform="translate(405.00,119.80) rotate(-90)" x="0" y="0" font-size="13.6" font-weight="normal" fill="#000" text-anchor="middle" textLength="180.00" lengthAdjust="spacingAndGlyphs" stroke="#000" stroke-width="0.7">Face Horizontal Accuracy (%)</text>
<text x="472.00" y="248.10" font-size="14.0" font-weight="normal" fill="#000" text-anchor="start" textLength="163.00" lengthAdjust="spacingAndGlyphs" stroke="#000" stroke-width="0.7">Face Vertical Accuracy (%)</text>
<line x1="416.80" y1="240.00" x2="416.80" y2="458.90" stroke="#555" stroke-width="1.4" />
<line x1="416.10" y1="458.20" x2="664.20" y2="458.20" stroke="#4a4a4a" stroke-width="1.4" />
<line x1="414.70" y1="259.40" x2="416.80" y2="259.40" stroke="#555" stroke-width="1.0" />
<text x="413.40" y="263.20" font-size="9.5" font-weight="normal" fill="#222" text-anchor="end" stroke="#222" stroke-width="0.45">80</text>
<line x1="414.70" y1="313.40" x2="416.80" y2="313.40" stroke="#555" stroke-width="1.0" />
<text x="413.40" y="317.20" font-size="9.5" font-weight="normal" fill="#222" text-anchor="end" stroke="#222" stroke-width="0.45">70</text>
<line x1="414.70" y1="367.40" x2="416.80" y2="367.40" stroke="#555" stroke-width="1.0" />
<text x="413.40" y="371.20" font-size="9.5" font-weight="normal" fill="#222" text-anchor="end" stroke="#222" stroke-width="0.45">60</text>
<line x1="414.70" y1="421.40" x2="416.80" y2="421.40" stroke="#555" stroke-width="1.0" />
<text x="413.40" y="425.20" font-size="9.5" font-weight="normal" fill="#222" text-anchor="end" stroke="#222" stroke-width="0.45">50</text>
<line x1="477.70" y1="458.20" x2="477.70" y2="459.90" stroke="#555" stroke-width="1.0" />
<text x="477.70" y="468.80" font-size="9.5" font-weight="normal" fill="#222" text-anchor="middle" stroke="#222" stroke-width="0.45">50</text>
<line x1="552.70" y1="458.20" x2="552.70" y2="459.90" stroke="#555" stroke-width="1.0" />
<text x="552.70" y="468.80" font-size="9.5" font-weight="normal" fill="#222" text-anchor="middle" stroke="#222" stroke-width="0.45">60</text>
<line x1="627.70" y1="458.20" x2="627.70" y2="459.90" stroke="#555" stroke-width="1.0" />
<text x="627.70" y="468.80" font-size="9.5" font-weight="normal" fill="#222" text-anchor="middle" stroke="#222" stroke-width="0.45">70</text>
<line x1="427.67" y1="331.38" x2="427.67" y2="360.00" stroke="#9a9a9a" stroke-width="1.0" stroke-opacity="0.65"/>
<line x1="427.67" y1="349.42" x2="427.67" y2="360.00" stroke="#9a9a9a" stroke-width="1.0" stroke-opacity="0.65"/>
<line x1="440.20" y1="331.38" x2="440.20" y2="358.14" stroke="#9a9a9a" stroke-width="1.0" stroke-opacity="0.65"/>
<line x1="452.73" y1="394.40" x2="452.73" y2="356.27" stroke="#9a9a9a" stroke-width="1.0" stroke-opacity="0.65"/>
<line x1="465.17" y1="322.42" x2="465.17" y2="354.42" stroke="#9a9a9a" stroke-width="1.0" stroke-opacity="0.65"/>
<line x1="465.17" y1="349.42" x2="465.17" y2="354.42" stroke="#9a9a9a" stroke-width="1.0" stroke-opacity="0.65"/>
<line x1="477.70" y1="277.38" x2="477.70" y2="352.56" stroke="#9a9a9a" stroke-width="1.0" stroke-opacity="0.65"/>
<line x1="477.70" y1="304.38" x2="477.70" y2="352.56" stroke="#9a9a9a" stroke-width="1.0" stroke-opacity="0.65"/>
<line x1="477.70" y1="322.42" x2="477.70" y2="352.56" stroke="#9a9a9a" stroke-width="1.0" stroke-opacity="0.65"/>
<line x1="477.70" y1="349.42" x2="477.70" y2="352.56" stroke="#9a9a9a" stroke-width="1.0" stroke-opacity="0.65"/>
<line x1="477.70" y1="367.40" x2="477.70" y2="352.56" stroke="#9a9a9a" stroke-width="1.0" stroke-opacity="0.65"/>
<line x1="477.70" y1="376.42" x2="477.70" y2="352.56" stroke="#9a9a9a" stroke-width="1.0" stroke-opacity="0.65"/>
<line x1="477.70" y1="394.40" x2="477.70" y2="352.56" stroke="#9a9a9a" stroke-width="1.0" stroke-opacity="0.65"/>
<line x1="490.23" y1="331.38" x2="490.23" y2="350.69" stroke="#9a9a9a" stroke-width="1.0" stroke-opacity="0.65"/>
<line x1="490.23" y1="340.40" x2="490.23" y2="350.69" stroke="#9a9a9a" stroke-width="1.0" stroke-opacity="0.65"/>
<line x1="490.23" y1="367.40" x2="490.23" y2="350.69" stroke="#9a9a9a" stroke-width="1.0" stroke-opacity="0.65"/>
<line x1="490.23" y1="385.38" x2="490.23" y2="350.69" stroke="#9a9a9a" stroke-width="1.0" stroke-opacity="0.65"/>
<line x1="502.67" y1="295.42" x2="502.67" y2="348.84" stroke="#9a9a9a" stroke-width="1.0" stroke-opacity="0.65"/>
<line x1="502.67" y1="304.38" x2="502.67" y2="348.84" stroke="#9a9a9a" stroke-width="1.0" stroke-opacity="0.65"/>
<line x1="502.67" y1="322.42" x2="502.67" y2="348.84" stroke="#9a9a9a" stroke-width="1.0" stroke-opacity="0.65"/>
<line x1="502.67" y1="331.38" x2="502.67" y2="348.84" stroke="#9a9a9a" stroke-width="1.0" stroke-opacity="0.65"/>
<line x1="502.67" y1="340.40" x2="502.67" y2="348.84" stroke="#9a9a9a" stroke-width="1.0" stroke-opacity="0.65"/>
<line x1="502.67" y1="349.42" x2="502.67" y2="348.84" stroke="#9a9a9a" stroke-width="1.0" stroke-opacity="0.65"/>
<line x1="502.67" y1="358.38" x2="502.67" y2="348.84" stroke="#9a9a9a" stroke-width="1.0" stroke-opacity="0.65"/>
<line x1="502.67" y1="367.40" x2="502.67" y2="348.84" stroke="#9a9a9a" stroke-width="1.0" stroke-opacity="0.65"/>
<line x1="502.67" y1="376.42" x2="502.67" y2="348.84" stroke="#9a9a9a" stroke-width="1.0" stroke-opacity="0.65"/>
<line x1="502.67" y1="385.38" x2="502.67" y2="348.84" stroke="#9a9a9a" stroke-width="1.0" stroke-opacity="0.65"/>
<line x1="502.67" y1="394.40" x2="502.67" y2="348.84" stroke="#9a9a9a" stroke-width="1.0" stroke-opacity="0.65"/>
<line x1="515.20" y1="304.38" x2="515.20" y2="346.98" stroke="#9a9a9a" stroke-width="1.0" stroke-opacity="0.65"/>
<line x1="515.20" y1="313.40" x2="515.20" y2="346.98" stroke="#9a9a9a" stroke-width="1.0" stroke-opacity="0.65"/>
<line x1="515.20" y1="322.42" x2="515.20" y2="346.98" stroke="#9a9a9a" stroke-width="1.0" stroke-opacity="0.65"/>
<line x1="515.20" y1="331.38" x2="515.20" y2="346.98" stroke="#9a9a9a" stroke-width="1.0" stroke-opacity="0.65"/>
<line x1="515.20" y1="340.40" x2="515.20" y2="346.98" stroke="#9a9a9a" stroke-width="1.0" stroke-opacity="0.65"/>
<line x1="515.20" y1="349.42" x2="515.20" y2="346.98" stroke="#9a9a9a" stroke-width="1.0" stroke-opacity="0.65"/>
<line x1="515.20" y1="367.40" x2="515.20" y2="346.98" stroke="#9a9a9a" stroke-width="1.0" stroke-opacity="0.65"/>
<line x1="515.20" y1="385.38" x2="515.20" y2="346.98" stroke="#9a9a9a" stroke-width="1.0" stroke-opacity="0.65"/>
<line x1="515.20" y1="403.42" x2="515.20" y2="346.98" stroke="#9a9a9a" stroke-width="1.0" stroke-opacity="0.65"/>
<line x1="515.20" y1="412.38" x2="515.20" y2="346.98" stroke="#9a9a9a" stroke-width="1.0" stroke-opacity="0.65"/>
<line x1="515.20" y1="430.42" x2="515.20" y2="346.98" stroke="#9a9a9a" stroke-width="1.0" stroke-opacity="0.65"/>
<line x1="527.73" y1="313.40" x2="527.73" y2="345.11" stroke="#9a9a9a" stroke-width="1.0" stroke-opacity="0.65"/>
<line x1="527.73" y1="322.42" x2="527.73" y2="345.11" stroke="#9a9a9a" stroke-width="1.0" stroke-opacity="0.65"/>
<line x1="527.73" y1="331.38" x2="527.73" y2="345.11" stroke="#9a9a9a" stroke-width="1.0" stroke-opacity="0.65"/>
<line x1="527.73" y1="340.40" x2="527.73" y2="345.11" stroke="#9a9a9a" stroke-width="1.0" stroke-opacity="0.65"/>
<line x1="527.73" y1="349.42" x2="527.73" y2="345.11" stroke="#9a9a9a" stroke-width="1.0" stroke-opacity="0.65"/>
<line x1="540.17" y1="304.38" x2="540.17" y2="343.26" stroke="#9a9a9a" stroke-width="1.0" stroke-opacity="0.65"/>
<line x1="540.17" y1="313.40" x2="540.17" y2="343.26" stroke="#9a9a9a" stroke-width="1.0" stroke-opacity="0.65"/>
<line x1="540.17" y1="322.42" x2="540.17" y2="343.26" stroke="#9a9a9a" stroke-width="1.0" stroke-opacity="0.65"/>
<line x1="540.17" y1="331.38" x2="540.17" y2="343.26" stroke="#9a9a9a" stroke-width="1.0" stroke-opacity="0.65"/>
<line x1="540.17" y1="340.40" x2="540.17" y2="343.26" stroke="#9a9a9a" stroke-width="1.0" stroke-opacity="0.65"/>
<line x1="540.17" y1="367.40" x2="540.17" y2="343.26" stroke="#9a9a9a" stroke-width="1.0" stroke-opacity="0.65"/>
<line x1="540.17" y1="376.42" x2="540.17" y2="343.26" stroke="#9a9a9a" stroke-width="1.0" stroke-opacity="0.65"/>
<line x1="540.17" y1="385.38" x2="540.17" y2="343.26" stroke="#9a9a9a" stroke-width="1.0" stroke-opacity="0.65"/>
<line x1="552.70" y1="259.40" x2="552.70" y2="341.40" stroke="#9a9a9a" stroke-width="1.0" stroke-opacity="0.65"/>
<line x1="552.70" y1="286.40" x2="552.70" y2="341.40" stroke="#9a9a9a" stroke-width="1.0" stroke-opacity="0.65"/>
<line x1="552.70" y1="295.42" x2="552.70" y2="341.40" stroke="#9a9a9a" stroke-width="1.0" stroke-opacity="0.65"/>
<line x1="552.70" y1="340.40" x2="552.70" y2="341.40" stroke="#9a9a9a" stroke-width="1.0" stroke-opacity="0.65"/>
<line x1="552.70" y1="367.40" x2="552.70" y2="341.40" stroke="#9a9a9a" stroke-width="1.0" stroke-opacity="0.65"/>
<line x1="552.70" y1="376.42" x2="552.70" y2="341.40" stroke="#9a9a9a" stroke-width="1.0" stroke-opacity="0.65"/>
<line x1="565.23" y1="304.38" x2="565.23" y2="339.53" stroke="#9a9a9a" stroke-width="1.0" stroke-opacity="0.65"/>
<line x1="565.23" y1="313.40" x2="565.23" y2="339.53" stroke="#9a9a9a" stroke-width="1.0" stroke-opacity="0.65"/>
<line x1="565.23" y1="322.42" x2="565.23" y2="339.53" stroke="#9a9a9a" stroke-width="1.0" stroke-opacity="0.65"/>
<line x1="565.23" y1="331.38" x2="565.23" y2="339.53" stroke="#9a9a9a" stroke-width="1.0" stroke-opacity="0.65"/>
<line x1="565.23" y1="367.40" x2="565.23" y2="339.53" stroke="#9a9a9a" stroke-width="1.0" stroke-opacity="0.65"/>
<line x1="565.23" y1="385.38" x2="565.23" y2="339.53" stroke="#9a9a9a" stroke-width="1.0" stroke-opacity="0.65"/>
<line x1="565.23" y1="448.40" x2="565.23" y2="339.53" stroke="#9a9a9a" stroke-width="1.0" stroke-opacity="0.65"/>
<line x1="577.67" y1="313.40" x2="577.67" y2="337.68" stroke="#9a9a9a" stroke-width="1.0" stroke-opacity="0.65"/>
<line x1="577.67" y1="340.40" x2="577.67" y2="337.68" stroke="#9a9a9a" stroke-width="1.0" stroke-opacity="0.65"/>
<line x1="577.67" y1="349.42" x2="577.67" y2="337.68" stroke="#9a9a9a" stroke-width="1.0" stroke-opacity="0.65"/>
<line x1="577.67" y1="421.40" x2="577.67" y2="337.68" stroke="#9a9a9a" stroke-width="1.0" stroke-opacity="0.65"/>
<line x1="590.20" y1="286.40" x2="590.20" y2="335.82" stroke="#9a9a9a" stroke-width="1.0" stroke-opacity="0.65"/>
<line x1="590.20" y1="313.40" x2="590.20" y2="335.82" stroke="#9a9a9a" stroke-width="1.0" stroke-opacity="0.65"/>
<line x1="590.20" y1="331.38" x2="590.20" y2="335.82" stroke="#9a9a9a" stroke-width="1.0" stroke-opacity="0.65"/>
<line x1="590.20" y1="358.38" x2="590.20" y2="335.82" stroke="#9a9a9a" stroke-width="1.0" stroke-opacity="0.65"/>
<line x1="602.73" y1="331.38" x2="602.73" y2="333.95" stroke="#9a9a9a" stroke-width="1.0" stroke-opacity="0.65"/>
<line x1="602.73" y1="340.40" x2="602.73" y2="333.95" stroke="#9a9a9a" stroke-width="1.0" stroke-opacity="0.65"/>
<line x1="602.73" y1="376.42" x2="602.73" y2="333.95" stroke="#9a9a9a" stroke-width="1.0" stroke-opacity="0.65"/>
<line x1="602.73" y1="385.38" x2="602.73" y2="333.95" stroke="#9a9a9a" stroke-width="1.0" stroke-opacity="0.65"/>
<line x1="615.17" y1="367.40" x2="615.17" y2="332.10" stroke="#9a9a9a" stroke-width="1.0" stroke-opacity="0.65"/>
<line x1="615.17" y1="253.70" x2="615.17" y2="332.10" stroke="#9a9a9a" stroke-width="1.0" stroke-opacity="0.65"/>
<line x1="640.23" y1="286.40" x2="640.23" y2="328.37" stroke="#9a9a9a" stroke-width="1.0" stroke-opacity="0.65"/>
<line x1="640.23" y1="385.38" x2="640.23" y2="328.37" stroke="#9a9a9a" stroke-width="1.0" stroke-opacity="0.65"/>
<line x1="652.67" y1="259.40" x2="652.67" y2="326.52" stroke="#9a9a9a" stroke-width="1.0" stroke-opacity="0.65"/>
<line x1="652.67" y1="295.42" x2="652.67" y2="326.52" stroke="#9a9a9a" stroke-width="1.0" stroke-opacity="0.65"/>
<line x1="427.67" y1="360.00" x2="652.67" y2="326.52" stroke="#222" stroke-width="1.8" />
<circle cx="427.67" cy="360.00" r="1.2" fill="#555" stroke="none" stroke-width="0" />
<circle cx="652.67" cy="326.52" r="1.2" fill="#555" stroke="none" stroke-width="0" />
<circle cx="427.67" cy="331.38" r="2.55" fill="#000" stroke="none" stroke-width="0" />
<circle cx="427.67" cy="349.42" r="2.55" fill="#000" stroke="none" stroke-width="0" />
<circle cx="440.20" cy="331.38" r="2.55" fill="#000" stroke="none" stroke-width="0" />
<circle cx="452.73" cy="394.40" r="2.55" fill="#000" stroke="none" stroke-width="0" />
<circle cx="465.17" cy="322.42" r="2.55" fill="#000" stroke="none" stroke-width="0" />
<circle cx="465.17" cy="349.42" r="2.55" fill="#000" stroke="none" stroke-width="0" />
<circle cx="477.70" cy="277.38" r="2.55" fill="#000" stroke="none" stroke-width="0" />
<circle cx="477.70" cy="304.38" r="2.55" fill="#000" stroke="none" stroke-width="0" />
<circle cx="477.70" cy="322.42" r="2.55" fill="#000" stroke="none" stroke-width="0" />
<circle cx="477.70" cy="349.42" r="2.55" fill="#000" stroke="none" stroke-width="0" />
<circle cx="477.70" cy="367.40" r="2.55" fill="#000" stroke="none" stroke-width="0" />
<circle cx="477.70" cy="376.42" r="2.55" fill="#000" stroke="none" stroke-width="0" />
<circle cx="477.70" cy="394.40" r="2.55" fill="#000" stroke="none" stroke-width="0" />
<circle cx="490.23" cy="331.38" r="2.55" fill="#000" stroke="none" stroke-width="0" />
<circle cx="490.23" cy="340.40" r="2.55" fill="#000" stroke="none" stroke-width="0" />
<circle cx="490.23" cy="367.40" r="2.55" fill="#000" stroke="none" stroke-width="0" />
<circle cx="490.23" cy="385.38" r="2.55" fill="#000" stroke="none" stroke-width="0" />
<circle cx="502.67" cy="295.42" r="2.55" fill="#000" stroke="none" stroke-width="0" />
<circle cx="502.67" cy="304.38" r="2.55" fill="#000" stroke="none" stroke-width="0" />
<circle cx="502.67" cy="322.42" r="2.55" fill="#000" stroke="none" stroke-width="0" />
<circle cx="502.67" cy="331.38" r="2.55" fill="#000" stroke="none" stroke-width="0" />
<circle cx="502.67" cy="340.40" r="2.55" fill="#000" stroke="none" stroke-width="0" />
<circle cx="502.67" cy="349.42" r="2.55" fill="#000" stroke="none" stroke-width="0" />
<circle cx="502.67" cy="358.38" r="2.55" fill="#000" stroke="none" stroke-width="0" />
<circle cx="502.67" cy="367.40" r="2.55" fill="#000" stroke="none" stroke-width="0" />
<circle cx="502.67" cy="376.42" r="2.55" fill="#000" stroke="none" stroke-width="0" />
<circle cx="502.67" cy="385.38" r="2.55" fill="#000" stroke="none" stroke-width="0" />
<circle cx="502.67" cy="394.40" r="2.55" fill="#000" stroke="none" stroke-width="0" />
<circle cx="515.20" cy="304.38" r="2.55" fill="#000" stroke="none" stroke-width="0" />
<circle cx="515.20" cy="313.40" r="2.55" fill="#000" stroke="none" stroke-width="0" />
<circle cx="515.20" cy="322.42" r="2.55" fill="#000" stroke="none" stroke-width="0" />
<circle cx="515.20" cy="331.38" r="2.55" fill="#000" stroke="none" stroke-width="0" />
<circle cx="515.20" cy="340.40" r="2.55" fill="#000" stroke="none" stroke-width="0" />
<circle cx="515.20" cy="349.42" r="2.55" fill="#000" stroke="none" stroke-width="0" />
<circle cx="515.20" cy="367.40" r="2.55" fill="#000" stroke="none" stroke-width="0" />
<circle cx="515.20" cy="385.38" r="2.55" fill="#000" stroke="none" stroke-width="0" />
<circle cx="515.20" cy="403.42" r="2.55" fill="#000" stroke="none" stroke-width="0" />
<circle cx="515.20" cy="412.38" r="2.55" fill="#000" stroke="none" stroke-width="0" />
<circle cx="515.20" cy="430.42" r="2.55" fill="#000" stroke="none" stroke-width="0" />
<circle cx="527.73" cy="313.40" r="2.55" fill="#000" stroke="none" stroke-width="0" />
<circle cx="527.73" cy="322.42" r="2.55" fill="#000" stroke="none" stroke-width="0" />
<circle cx="527.73" cy="331.38" r="2.55" fill="#000" stroke="none" stroke-width="0" />
<circle cx="527.73" cy="340.40" r="2.55" fill="#000" stroke="none" stroke-width="0" />
<circle cx="527.73" cy="349.42" r="2.55" fill="#000" stroke="none" stroke-width="0" />
<circle cx="540.17" cy="304.38" r="2.55" fill="#000" stroke="none" stroke-width="0" />
<circle cx="540.17" cy="313.40" r="2.55" fill="#000" stroke="none" stroke-width="0" />
<circle cx="540.17" cy="322.42" r="2.55" fill="#000" stroke="none" stroke-width="0" />
<circle cx="540.17" cy="331.38" r="2.55" fill="#000" stroke="none" stroke-width="0" />
<circle cx="540.17" cy="340.40" r="2.55" fill="#000" stroke="none" stroke-width="0" />
<circle cx="540.17" cy="367.40" r="2.55" fill="#000" stroke="none" stroke-width="0" />
<circle cx="540.17" cy="376.42" r="2.55" fill="#000" stroke="none" stroke-width="0" />
<circle cx="540.17" cy="385.38" r="2.55" fill="#000" stroke="none" stroke-width="0" />
<circle cx="552.70" cy="259.40" r="2.55" fill="#000" stroke="none" stroke-width="0" />
<circle cx="552.70" cy="286.40" r="2.55" fill="#000" stroke="none" stroke-width="0" />
<circle cx="552.70" cy="295.42" r="2.55" fill="#000" stroke="none" stroke-width="0" />
<circle cx="552.70" cy="340.40" r="2.55" fill="#000" stroke="none" stroke-width="0" />
<circle cx="552.70" cy="367.40" r="2.55" fill="#000" stroke="none" stroke-width="0" />
<circle cx="552.70" cy="376.42" r="2.55" fill="#000" stroke="none" stroke-width="0" />
<circle cx="565.23" cy="304.38" r="2.55" fill="#000" stroke="none" stroke-width="0" />
<circle cx="565.23" cy="313.40" r="2.55" fill="#000" stroke="none" stroke-width="0" />
<circle cx="565.23" cy="322.42" r="2.55" fill="#000" stroke="none" stroke-width="0" />
<circle cx="565.23" cy="331.38" r="2.55" fill="#000" stroke="none" stroke-width="0" />
<circle cx="565.23" cy="367.40" r="2.55" fill="#000" stroke="none" stroke-width="0" />
<circle cx="565.23" cy="385.38" r="2.55" fill="#000" stroke="none" stroke-width="0" />
<circle cx="565.23" cy="448.40" r="2.55" fill="#000" stroke="none" stroke-width="0" />
<circle cx="577.67" cy="313.40" r="2.55" fill="#000" stroke="none" stroke-width="0" />
<circle cx="577.67" cy="340.40" r="2.55" fill="#000" stroke="none" stroke-width="0" />
<circle cx="577.67" cy="349.42" r="2.55" fill="#000" stroke="none" stroke-width="0" />
<circle cx="577.67" cy="421.40" r="2.55" fill="#000" stroke="none" stroke-width="0" />
<circle cx="590.20" cy="286.40" r="2.55" fill="#000" stroke="none" stroke-width="0" />
<circle cx="590.20" cy="313.40" r="2.55" fill="#000" stroke="none" stroke-width="0" />
<circle cx="590.20" cy="331.38" r="2.55" fill="#000" stroke="none" stroke-width="0" />
<circle cx="590.20" cy="358.38" r="2.55" fill="#000" stroke="none" stroke-width="0" />
<circle cx="602.73" cy="331.38" r="2.55" fill="#000" stroke="none" stroke-width="0" />
<circle cx="602.73" cy="340.40" r="2.55" fill="#000" stroke="none" stroke-width="0" />
<circle cx="602.73" cy="376.42" r="2.55" fill="#000" stroke="none" stroke-width="0" />
<circle cx="602.73" cy="385.38" r="2.55" fill="#000" stroke="none" stroke-width="0" />
<circle cx="615.17" cy="367.40" r="2.55" fill="#000" stroke="none" stroke-width="0" />
<circle cx="640.23" cy="286.40" r="2.55" fill="#000" stroke="none" stroke-width="0" />
<circle cx="640.23" cy="385.38" r="2.55" fill="#000" stroke="none" stroke-width="0" />
<circle cx="652.67" cy="259.40" r="2.55" fill="#000" stroke="none" stroke-width="0" />
<circle cx="652.67" cy="295.42" r="2.55" fill="#000" stroke="none" stroke-width="0" />
<text transform="translate(394.00,346.50) rotate(-90)" x="0" y="0" font-size="13.6" font-weight="normal" fill="#000" text-anchor="middle" textLength="172.00" lengthAdjust="spacingAndGlyphs" stroke="#000" stroke-width="0.7">Car Horizontal Accuracy (%)</text>
<text x="465.40" y="488.30" font-size="14.0" font-weight="normal" fill="#000" text-anchor="start" textLength="155.20" lengthAdjust="spacingAndGlyphs" stroke="#000" stroke-width="0.7">Car Vertical Accuracy (%)</text>
<text x="7.80" y="509.00" font-size="30.6" font-weight="normal" fill="#000" text-anchor="start" stroke="#000" stroke-width="0.9">C</text>
<line x1="83.20" y1="495.50" x2="83.20" y2="703.40" stroke="#111" stroke-width="1.8" />
<line x1="82.30" y1="702.60" x2="318.00" y2="702.60" stroke="#111" stroke-width="1.8" />
<line x1="79.80" y1="515.20" x2="83.30" y2="515.20" stroke="#222" stroke-width="1.2" />
<text x="77.90" y="519.60" font-size="12.4" font-weight="normal" fill="#222" text-anchor="end" textLength="12.60" lengthAdjust="spacingAndGlyphs" stroke="#222" stroke-width="0.5">70</text>
<line x1="79.80" y1="562.10" x2="83.30" y2="562.10" stroke="#222" stroke-width="1.2" />
<text x="77.90" y="566.50" font-size="12.4" font-weight="normal" fill="#222" text-anchor="end" textLength="12.60" lengthAdjust="spacingAndGlyphs" stroke="#222" stroke-width="0.5">60</text>
<line x1="79.80" y1="609.00" x2="83.30" y2="609.00" stroke="#222" stroke-width="1.2" />
<text x="77.90" y="613.40" font-size="12.4" font-weight="normal" fill="#222" text-anchor="end" textLength="12.60" lengthAdjust="spacingAndGlyphs" stroke="#222" stroke-width="0.5">50</text>
<line x1="79.80" y1="655.90" x2="83.30" y2="655.90" stroke="#222" stroke-width="1.2" />
<text x="77.90" y="660.30" font-size="12.4" font-weight="normal" fill="#222" text-anchor="end" textLength="12.60" lengthAdjust="spacingAndGlyphs" stroke="#222" stroke-width="0.5">40</text>
<line x1="79.80" y1="702.80" x2="83.30" y2="702.80" stroke="#222" stroke-width="1.2" />
<text x="77.90" y="707.20" font-size="12.4" font-weight="normal" fill="#222" text-anchor="end" textLength="12.60" lengthAdjust="spacingAndGlyphs" stroke="#222" stroke-width="0.5">30</text>
<line x1="92.40" y1="702.60" x2="92.40" y2="706.00" stroke="#222" stroke-width="1.2" />
<text x="92.00" y="716.60" font-size="11.3" font-weight="normal" fill="#222" text-anchor="middle" stroke="#222" stroke-width="0.5">-0.2</text>
<line x1="147.70" y1="702.60" x2="147.70" y2="706.00" stroke="#222" stroke-width="1.2" />
<text x="147.30" y="716.60" font-size="11.3" font-weight="normal" fill="#222" text-anchor="middle" stroke="#222" stroke-width="0.5">-0.1</text>
<line x1="203.00" y1="702.60" x2="203.00" y2="706.00" stroke="#222" stroke-width="1.2" />
<text x="202.60" y="716.60" font-size="11.3" font-weight="normal" fill="#222" text-anchor="middle" stroke="#222" stroke-width="0.5">0.0</text>
<line x1="258.30" y1="702.60" x2="258.30" y2="706.00" stroke="#222" stroke-width="1.2" />
<text x="257.90" y="716.60" font-size="11.3" font-weight="normal" fill="#222" text-anchor="middle" stroke="#222" stroke-width="0.5">0.1</text>
<line x1="313.60" y1="702.60" x2="313.60" y2="706.00" stroke="#222" stroke-width="1.2" />
<text x="313.20" y="716.60" font-size="11.3" font-weight="normal" fill="#222" text-anchor="middle" stroke="#222" stroke-width="0.5">0.2</text>
<circle cx="108.70" cy="548.80" r="2.3" fill="#000" stroke="none" stroke-width="0" />
<circle cx="130.90" cy="571.90" r="2.3" fill="#000" stroke="none" stroke-width="0" />
<circle cx="128.80" cy="580.20" r="2.3" fill="#000" stroke="none" stroke-width="0" />
<circle cx="156.30" cy="509.60" r="2.3" fill="#000" stroke="none" stroke-width="0" />
<circle cx="160.20" cy="513.30" r="2.3" fill="#000" stroke="none" stroke-width="0" />
<circle cx="177.10" cy="507.10" r="2.3" fill="#000" stroke="none" stroke-width="0" />
<circle cx="153.10" cy="542.00" r="2.3" fill="#000" stroke="none" stroke-width="0" />
<circle cx="169.50" cy="532.30" r="2.3" fill="#000" stroke="none" stroke-width="0" />
<circle cx="176.70" cy="527.50" r="2.3" fill="#000" stroke="none" stroke-width="0" />
<circle cx="178.90" cy="533.20" r="2.3" fill="#000" stroke="none" stroke-width="0" />
<circle cx="182.40" cy="539.00" r="2.3" fill="#000" stroke="none" stroke-width="0" />
<circle cx="163.80" cy="553.00" r="2.3" fill="#000" stroke="none" stroke-width="0" />
<circle cx="171.20" cy="547.90" r="2.3" fill="#000" stroke="none" stroke-width="0" />
<circle cx="173.20" cy="558.90" r="2.3" fill="#000" stroke="none" stroke-width="0" />
<circle cx="184.20" cy="551.50" r="2.3" fill="#000" stroke="none" stroke-width="0" />
<circle cx="180.30" cy="562.10" r="2.3" fill="#000" stroke="none" stroke-width="0" />
<circle cx="184.50" cy="558.20" r="2.3" fill="#000" stroke="none" stroke-width="0" />
<circle cx="190.00" cy="557.50" r="2.3" fill="#000" stroke="none" stroke-width="0" />
<circle cx="191.60" cy="563.00" r="2.3" fill="#000" stroke="none" stroke-width="0" />
<circle cx="177.10" cy="574.00" r="2.3" fill="#000" stroke="none" stroke-width="0" />
<circle cx="182.40" cy="572.60" r="2.3" fill="#000" stroke="none" stroke-width="0" />
<circle cx="191.80" cy="570.40" r="2.3" fill="#000" stroke="none" stroke-width="0" />
<circle cx="199.30" cy="566.90" r="2.3" fill="#000" stroke="none" stroke-width="0" />
<circle cx="193.10" cy="514.50" r="2.3" fill="#000" stroke="none" stroke-width="0" />
<circle cx="194.00" cy="518.60" r="2.3" fill="#000" stroke="none" stroke-width="0" />
<circle cx="197.50" cy="518.60" r="2.3" fill="#000" stroke="none" stroke-width="0" />
<circle cx="197.50" cy="523.00" r="2.3" fill="#000" stroke="none" stroke-width="0" />
<circle cx="201.90" cy="539.40" r="2.3" fill="#000" stroke="none" stroke-width="0" />
<circle cx="160.20" cy="585.50" r="2.3" fill="#000" stroke="none" stroke-width="0" />
<circle cx="154.90" cy="602.80" r="2.3" fill="#000" stroke="none" stroke-width="0" />
<circle cx="186.00" cy="595.80" r="2.3" fill="#000" stroke="none" stroke-width="0" />
<circle cx="191.60" cy="591.80" r="2.3" fill="#000" stroke="none" stroke-width="0" />
<circle cx="195.20" cy="589.10" r="2.3" fill="#000" stroke="none" stroke-width="0" />
<circle cx="191.60" cy="602.00" r="2.3" fill="#000" stroke="none" stroke-width="0" />
<circle cx="199.30" cy="598.90" r="2.3" fill="#000" stroke="none" stroke-width="0" />
<circle cx="200.50" cy="597.10" r="2.3" fill="#000" stroke="none" stroke-width="0" />
<circle cx="201.00" cy="583.80" r="2.3" fill="#000" stroke="none" stroke-width="0" />
<circle cx="293.20" cy="505.30" r="2.3" fill="#000" stroke="none" stroke-width="0" />
<circle cx="232.80" cy="506.20" r="2.3" fill="#000" stroke="none" stroke-width="0" />
<circle cx="228.40" cy="508.70" r="2.3" fill="#000" stroke="none" stroke-width="0" />
<circle cx="219.50" cy="514.00" r="2.3" fill="#000" stroke="none" stroke-width="0" />
<circle cx="223.10" cy="515.40" r="2.3" fill="#000" stroke="none" stroke-width="0" />
<circle cx="224.90" cy="516.80" r="2.3" fill="#000" stroke="none" stroke-width="0" />
<circle cx="221.30" cy="519.50" r="2.3" fill="#000" stroke="none" stroke-width="0" />
<circle cx="217.40" cy="524.30" r="2.3" fill="#000" stroke="none" stroke-width="0" />
<circle cx="223.10" cy="533.50" r="2.3" fill="#000" stroke="none" stroke-width="0" />
<circle cx="232.00" cy="530.00" r="2.3" fill="#000" stroke="none" stroke-width="0" />
<circle cx="236.40" cy="533.50" r="2.3" fill="#000" stroke="none" stroke-width="0" />
<circle cx="239.40" cy="533.50" r="2.3" fill="#000" stroke="none" stroke-width="0" />
<circle cx="241.70" cy="538.50" r="2.3" fill="#000" stroke="none" stroke-width="0" />
<circle cx="248.80" cy="533.20" r="2.3" fill="#000" stroke="none" stroke-width="0" />
<circle cx="250.60" cy="525.20" r="2.3" fill="#000" stroke="none" stroke-width="0" />
<circle cx="254.10" cy="525.20" r="2.3" fill="#000" stroke="none" stroke-width="0" />
<circle cx="254.10" cy="518.10" r="2.3" fill="#000" stroke="none" stroke-width="0" />
<circle cx="258.20" cy="516.00" r="2.3" fill="#000" stroke="none" stroke-width="0" />
<circle cx="261.20" cy="518.10" r="2.3" fill="#000" stroke="none" stroke-width="0" />
<circle cx="267.10" cy="519.90" r="2.3" fill="#000" stroke="none" stroke-width="0" />
<circle cx="267.10" cy="529.60" r="2.3" fill="#000" stroke="none" stroke-width="0" />
<circle cx="286.10" cy="532.60" r="2.3" fill="#000" stroke="none" stroke-width="0" />
<circle cx="286.10" cy="547.40" r="2.3" fill="#000" stroke="none" stroke-width="0" />
<circle cx="280.40" cy="556.20" r="2.3" fill="#000" stroke="none" stroke-width="0" />
<circle cx="267.10" cy="553.20" r="2.3" fill="#000" stroke="none" stroke-width="0" />
<circle cx="254.50" cy="558.00" r="2.3" fill="#000" stroke="none" stroke-width="0" />
<circle cx="252.40" cy="567.80" r="2.3" fill="#000" stroke="none" stroke-width="0" />
<circle cx="224.90" cy="560.20" r="2.3" fill="#000" stroke="none" stroke-width="0" />
<circle cx="233.70" cy="561.60" r="2.3" fill="#000" stroke="none" stroke-width="0" />
<circle cx="208.00" cy="537.60" r="2.3" fill="#000" stroke="none" stroke-width="0" />
<circle cx="206.20" cy="540.30" r="2.3" fill="#000" stroke="none" stroke-width="0" />
<circle cx="206.70" cy="547.00" r="2.3" fill="#000" stroke="none" stroke-width="0" />
<circle cx="212.10" cy="547.70" r="2.3" fill="#000" stroke="none" stroke-width="0" />
<circle cx="219.20" cy="542.00" r="2.3" fill="#000" stroke="none" stroke-width="0" />
<circle cx="205.00" cy="585.90" r="2.3" fill="#000" stroke="none" stroke-width="0" />
<circle cx="212.10" cy="582.00" r="2.3" fill="#000" stroke="none" stroke-width="0" />
<circle cx="217.40" cy="590.50" r="2.3" fill="#000" stroke="none" stroke-width="0" />
<circle cx="226.60" cy="595.30" r="2.3" fill="#000" stroke="none" stroke-width="0" />
<circle cx="276.30" cy="585.90" r="2.3" fill="#000" stroke="none" stroke-width="0" />
<circle cx="206.20" cy="598.90" r="2.3" fill="#000" stroke="none" stroke-width="0" />
<circle cx="208.00" cy="603.60" r="2.3" fill="#000" stroke="none" stroke-width="0" />
<circle cx="204.40" cy="612.40" r="2.3" fill="#000" stroke="none" stroke-width="0" />
<circle cx="206.20" cy="621.30" r="2.3" fill="#000" stroke="none" stroke-width="0" />
<circle cx="212.10" cy="626.10" r="2.3" fill="#000" stroke="none" stroke-width="0" />
<circle cx="213.80" cy="628.20" r="2.3" fill="#000" stroke="none" stroke-width="0" />
<circle cx="307.80" cy="609.60" r="2.3" fill="#000" stroke="none" stroke-width="0" />
<circle cx="261.80" cy="641.70" r="2.3" fill="#000" stroke="none" stroke-width="0" />
<circle cx="219.20" cy="668.10" r="2.3" fill="#000" stroke="none" stroke-width="0" />
<circle cx="232.00" cy="666.00" r="2.3" fill="#000" stroke="none" stroke-width="0" />
<circle cx="226.60" cy="684.30" r="2.3" fill="#000" stroke="none" stroke-width="0" />
<circle cx="252.00" cy="693.50" r="2.3" fill="#000" stroke="none" stroke-width="0" />
<circle cx="93.70" cy="636.20" r="2.3" fill="#000" stroke="none" stroke-width="0" />
<circle cx="127.00" cy="642.40" r="2.3" fill="#000" stroke="none" stroke-width="0" />
<circle cx="127.00" cy="648.30" r="2.3" fill="#000" stroke="none" stroke-width="0" />
<circle cx="123.50" cy="664.20" r="2.3" fill="#000" stroke="none" stroke-width="0" />
<circle cx="121.20" cy="670.40" r="2.3" fill="#000" stroke="none" stroke-width="0" />
<circle cx="135.90" cy="677.50" r="2.3" fill="#000" stroke="none" stroke-width="0" />
<circle cx="149.00" cy="634.10" r="2.3" fill="#000" stroke="none" stroke-width="0" />
<circle cx="151.00" cy="640.30" r="2.3" fill="#000" stroke="none" stroke-width="0" />
<circle cx="158.40" cy="638.10" r="2.3" fill="#000" stroke="none" stroke-width="0" />
<circle cx="158.10" cy="671.30" r="2.3" fill="#000" stroke="none" stroke-width="0" />
<circle cx="162.00" cy="673.10" r="2.3" fill="#000" stroke="none" stroke-width="0" />
<circle cx="163.80" cy="683.40" r="2.3" fill="#000" stroke="none" stroke-width="0" />
<circle cx="173.20" cy="609.60" r="2.3" fill="#000" stroke="none" stroke-width="0" />
<circle cx="186.00" cy="642.40" r="2.3" fill="#000" stroke="none" stroke-width="0" />
<circle cx="193.40" cy="632.30" r="2.3" fill="#000" stroke="none" stroke-width="0" />
<circle cx="195.20" cy="633.70" r="2.3" fill="#000" stroke="none" stroke-width="0" />
<circle cx="191.60" cy="610.10" r="2.3" fill="#000" stroke="none" stroke-width="0" />
<path d="M93.50,594.63 L98.86,593.49 L104.22,592.34 L109.58,591.18 L114.94,590.02 L120.30,588.84 L125.66,587.66 L131.02,586.46 L136.38,585.24 L141.74,584.01 L147.10,582.75 L152.46,581.46 L157.82,580.14 L163.18,578.78 L168.54,577.36 L173.90,575.88 L179.26,574.31 L184.62,572.65 L189.98,570.86 L195.34,568.93 L200.70,566.84 L206.06,564.58 L211.42,562.15 L216.78,559.56 L222.14,556.84 L227.50,554.00 L232.86,551.05 L238.22,548.03 L243.58,544.95 L248.94,541.81 L254.30,538.63 L259.66,535.42 L265.02,532.17 L270.38,528.91 L275.74,525.63 L281.10,522.33 L286.46,519.02 L291.82,515.70 L297.18,512.37 L302.54,509.03 L307.90,505.68 L307.90,554.12 L302.54,555.27 L297.18,556.43 L291.82,557.59 L286.46,558.76 L281.10,559.95 L275.74,561.14 L270.38,562.36 L265.02,563.59 L259.66,564.84 L254.30,566.12 L248.94,567.44 L243.58,568.80 L238.22,570.21 L232.86,571.68 L227.50,573.23 L222.14,574.88 L216.78,576.65 L211.42,578.56 L206.06,580.63 L200.70,582.87 L195.34,585.27 L189.98,587.83 L184.62,590.54 L179.26,593.37 L173.90,596.30 L168.54,599.31 L163.18,602.39 L157.82,605.52 L152.46,608.69 L147.10,611.90 L141.74,615.14 L136.38,618.40 L131.02,621.68 L125.66,624.97 L120.30,628.28 L114.94,631.60 L109.58,634.93 L104.22,638.27 L98.86,641.62 L93.50,644.97 Z" fill="#4a4a4a" fill-opacity="0.535"/>
<line x1="93.50" y1="619.80" x2="307.90" y2="529.90" stroke="#000" stroke-width="2.8" />
<text transform="translate(58.60,600.00) rotate(-90)" x="0" y="0" font-size="14.0" font-weight="normal" fill="#000" text-anchor="middle" textLength="110.50" lengthAdjust="spacingAndGlyphs" stroke="#000" stroke-width="0.7">CFMT correct (#)</text>
<text x="115.80" y="737.30" font-size="14.3" font-weight="normal" fill="#000" text-anchor="start" textLength="173.80" lengthAdjust="spacingAndGlyphs" stroke="#000" stroke-width="0.7">Face Horizontal Preference</text>
<line x1="396.40" y1="500.20" x2="396.40" y2="707.40" stroke="#111" stroke-width="1.8" />
<line x1="395.50" y1="706.60" x2="632.20" y2="706.60" stroke="#111" stroke-width="1.8" />
<line x1="392.90" y1="520.40" x2="396.40" y2="520.40" stroke="#222" stroke-width="1.2" />
<text x="391.00" y="525.40" font-size="12.4" font-weight="normal" fill="#222" text-anchor="end" textLength="12.60" lengthAdjust="spacingAndGlyphs" stroke="#222" stroke-width="0.5">70</text>
<line x1="392.90" y1="567.30" x2="396.40" y2="567.30" stroke="#222" stroke-width="1.2" />
<text x="391.00" y="572.30" font-size="12.4" font-weight="normal" fill="#222" text-anchor="end" textLength="12.60" lengthAdjust="spacingAndGlyphs" stroke="#222" stroke-width="0.5">60</text>
<line x1="392.90" y1="614.20" x2="396.40" y2="614.20" stroke="#222" stroke-width="1.2" />
<text x="391.00" y="619.20" font-size="12.4" font-weight="normal" fill="#222" text-anchor="end" textLength="12.60" lengthAdjust="spacingAndGlyphs" stroke="#222" stroke-width="0.5">50</text>
<line x1="392.90" y1="661.10" x2="396.40" y2="661.10" stroke="#222" stroke-width="1.2" />
<text x="391.00" y="666.10" font-size="12.4" font-weight="normal" fill="#222" text-anchor="end" textLength="12.60" lengthAdjust="spacingAndGlyphs" stroke="#222" stroke-width="0.5">40</text>
<line x1="407.50" y1="706.60" x2="407.50" y2="710.00" stroke="#222" stroke-width="1.2" />
<text x="407.20" y="720.20" font-size="11.3" font-weight="normal" fill="#222" text-anchor="middle" stroke="#222" stroke-width="0.5">-0.2</text>
<line x1="468.23" y1="706.60" x2="468.23" y2="710.00" stroke="#222" stroke-width="1.2" />
<text x="467.93" y="720.20" font-size="11.3" font-weight="normal" fill="#222" text-anchor="middle" stroke="#222" stroke-width="0.5">-0.1</text>
<line x1="528.96" y1="706.60" x2="528.96" y2="710.00" stroke="#222" stroke-width="1.2" />
<text x="528.66" y="720.20" font-size="11.3" font-weight="normal" fill="#222" text-anchor="middle" stroke="#222" stroke-width="0.5">0.0</text>
<line x1="589.69" y1="706.60" x2="589.69" y2="710.00" stroke="#222" stroke-width="1.2" />
<text x="589.39" y="720.20" font-size="11.3" font-weight="normal" fill="#222" text-anchor="middle" stroke="#222" stroke-width="0.5">0.1</text>
<circle cx="435.30" cy="526.10" r="2.3" fill="#000" stroke="none" stroke-width="0" />
<circle cx="465.10" cy="511.90" r="2.3" fill="#000" stroke="none" stroke-width="0" />
<circle cx="490.00" cy="510.10" r="2.3" fill="#000" stroke="none" stroke-width="0" />
<circle cx="477.90" cy="519.00" r="2.3" fill="#000" stroke="none" stroke-width="0" />
<circle cx="477.90" cy="526.40" r="2.3" fill="#000" stroke="none" stroke-width="0" />
<circle cx="485.90" cy="520.70" r="2.3" fill="#000" stroke="none" stroke-width="0" />
<circle cx="486.40" cy="531.00" r="2.3" fill="#000" stroke="none" stroke-width="0" />
<circle cx="489.60" cy="538.00" r="2.3" fill="#000" stroke="none" stroke-width="0" />
<circle cx="491.80" cy="540.30" r="2.3" fill="#000" stroke="none" stroke-width="0" />
<circle cx="498.00" cy="542.00" r="2.3" fill="#000" stroke="none" stroke-width="0" />
<circle cx="506.30" cy="524.30" r="2.3" fill="#000" stroke="none" stroke-width="0" />
<circle cx="510.40" cy="533.20" r="2.3" fill="#000" stroke="none" stroke-width="0" />
<circle cx="515.50" cy="519.90" r="2.3" fill="#000" stroke="none" stroke-width="0" />
<circle cx="485.50" cy="549.10" r="2.3" fill="#000" stroke="none" stroke-width="0" />
<circle cx="490.00" cy="548.80" r="2.3" fill="#000" stroke="none" stroke-width="0" />
<circle cx="499.70" cy="552.30" r="2.3" fill="#000" stroke="none" stroke-width="0" />
<circle cx="471.70" cy="554.50" r="2.3" fill="#000" stroke="none" stroke-width="0" />
<circle cx="477.90" cy="559.80" r="2.3" fill="#000" stroke="none" stroke-width="0" />
<circle cx="501.90" cy="563.00" r="2.3" fill="#000" stroke="none" stroke-width="0" />
<circle cx="501.90" cy="567.40" r="2.3" fill="#000" stroke="none" stroke-width="0" />
<circle cx="510.40" cy="562.50" r="2.3" fill="#000" stroke="none" stroke-width="0" />
<circle cx="510.40" cy="577.50" r="2.3" fill="#000" stroke="none" stroke-width="0" />
<circle cx="481.60" cy="598.30" r="2.3" fill="#000" stroke="none" stroke-width="0" />
<circle cx="477.50" cy="604.20" r="2.3" fill="#000" stroke="none" stroke-width="0" />
<circle cx="503.80" cy="595.70" r="2.3" fill="#000" stroke="none" stroke-width="0" />
<circle cx="512.20" cy="595.00" r="2.3" fill="#000" stroke="none" stroke-width="0" />
<circle cx="534.30" cy="509.20" r="2.3" fill="#000" stroke="none" stroke-width="0" />
<circle cx="530.40" cy="515.40" r="2.3" fill="#000" stroke="none" stroke-width="0" />
<circle cx="521.90" cy="519.30" r="2.3" fill="#000" stroke="none" stroke-width="0" />
<circle cx="554.00" cy="514.50" r="2.3" fill="#000" stroke="none" stroke-width="0" />
<circle cx="544.60" cy="519.90" r="2.3" fill="#000" stroke="none" stroke-width="0" />
<circle cx="544.60" cy="524.30" r="2.3" fill="#000" stroke="none" stroke-width="0" />
<circle cx="538.40" cy="525.20" r="2.3" fill="#000" stroke="none" stroke-width="0" />
<circle cx="562.40" cy="523.80" r="2.3" fill="#000" stroke="none" stroke-width="0" />
<circle cx="561.10" cy="526.40" r="2.3" fill="#000" stroke="none" stroke-width="0" />
<circle cx="568.60" cy="530.00" r="2.3" fill="#000" stroke="none" stroke-width="0" />
<circle cx="576.60" cy="529.10" r="2.3" fill="#000" stroke="none" stroke-width="0" />
<circle cx="576.00" cy="531.90" r="2.3" fill="#000" stroke="none" stroke-width="0" />
<circle cx="581.00" cy="533.20" r="2.3" fill="#000" stroke="none" stroke-width="0" />
<circle cx="620.60" cy="519.30" r="2.3" fill="#000" stroke="none" stroke-width="0" />
<circle cx="524.20" cy="538.50" r="2.3" fill="#000" stroke="none" stroke-width="0" />
<circle cx="528.60" cy="536.20" r="2.3" fill="#000" stroke="none" stroke-width="0" />
<circle cx="542.50" cy="537.30" r="2.3" fill="#000" stroke="none" stroke-width="0" />
<circle cx="548.70" cy="539.40" r="2.3" fill="#000" stroke="none" stroke-width="0" />
<circle cx="556.70" cy="542.00" r="2.3" fill="#000" stroke="none" stroke-width="0" />
<circle cx="556.20" cy="545.60" r="2.3" fill="#000" stroke="none" stroke-width="0" />
<circle cx="564.70" cy="543.50" r="2.3" fill="#000" stroke="none" stroke-width="0" />
<circle cx="572.70" cy="537.30" r="2.3" fill="#000" stroke="none" stroke-width="0" />
<circle cx="589.00" cy="542.90" r="2.3" fill="#000" stroke="none" stroke-width="0" />
<circle cx="604.10" cy="538.10" r="2.3" fill="#000" stroke="none" stroke-width="0" />
<circle cx="538.40" cy="551.80" r="2.3" fill="#000" stroke="none" stroke-width="0" />
<circle cx="541.10" cy="551.50" r="2.3" fill="#000" stroke="none" stroke-width="0" />
<circle cx="548.70" cy="553.20" r="2.3" fill="#000" stroke="none" stroke-width="0" />
<circle cx="534.90" cy="558.40" r="2.3" fill="#000" stroke="none" stroke-width="0" />
<circle cx="548.70" cy="562.50" r="2.3" fill="#000" stroke="none" stroke-width="0" />
<circle cx="551.20" cy="566.00" r="2.3" fill="#000" stroke="none" stroke-width="0" />
<circle cx="558.80" cy="561.60" r="2.3" fill="#000" stroke="none" stroke-width="0" />
<circle cx="564.10" cy="557.10" r="2.3" fill="#000" stroke="none" stroke-width="0" />
<circle cx="566.80" cy="564.20" r="2.3" fill="#000" stroke="none" stroke-width="0" />
<circle cx="540.70" cy="567.30" r="2.3" fill="#000" stroke="none" stroke-width="0" />
<circle cx="532.70" cy="571.90" r="2.3" fill="#000" stroke="none" stroke-width="0" />
<circle cx="528.60" cy="575.20" r="2.3" fill="#000" stroke="none" stroke-width="0" />
<circle cx="531.70" cy="582.00" r="2.3" fill="#000" stroke="none" stroke-width="0" />
<circle cx="590.80" cy="575.20" r="2.3" fill="#000" stroke="none" stroke-width="0" />
<circle cx="613.30" cy="573.60" r="2.3" fill="#000" stroke="none" stroke-width="0" />
<circle cx="582.80" cy="567.80" r="2.3" fill="#000" stroke="none" stroke-width="0" />
<circle cx="552.10" cy="585.20" r="2.3" fill="#000" stroke="none" stroke-width="0" />
<circle cx="562.90" cy="585.20" r="2.3" fill="#000" stroke="none" stroke-width="0" />
<circle cx="534.50" cy="589.40" r="2.3" fill="#000" stroke="none" stroke-width="0" />
<circle cx="526.30" cy="590.90" r="2.3" fill="#000" stroke="none" stroke-width="0" />
<circle cx="530.40" cy="596.50" r="2.3" fill="#000" stroke="none" stroke-width="0" />
<circle cx="556.50" cy="592.10" r="2.3" fill="#000" stroke="none" stroke-width="0" />
<circle cx="621.00" cy="601.00" r="2.3" fill="#000" stroke="none" stroke-width="0" />
<circle cx="406.90" cy="697.40" r="2.3" fill="#000" stroke="none" stroke-width="0" />
<circle cx="435.50" cy="639.00" r="2.3" fill="#000" stroke="none" stroke-width="0" />
<circle cx="477.50" cy="650.40" r="2.3" fill="#000" stroke="none" stroke-width="0" />
<circle cx="488.20" cy="647.40" r="2.3" fill="#000" stroke="none" stroke-width="0" />
<circle cx="465.70" cy="673.60" r="2.3" fill="#000" stroke="none" stroke-width="0" />
<circle cx="482.00" cy="669.00" r="2.3" fill="#000" stroke="none" stroke-width="0" />
<circle cx="482.00" cy="674.50" r="2.3" fill="#000" stroke="none" stroke-width="0" />
<circle cx="482.00" cy="683.20" r="2.3" fill="#000" stroke="none" stroke-width="0" />
<circle cx="502.00" cy="669.60" r="2.3" fill="#000" stroke="none" stroke-width="0" />
<circle cx="455.70" cy="689.10" r="2.3" fill="#000" stroke="none" stroke-width="0" />
<circle cx="508.10" cy="690.30" r="2.3" fill="#000" stroke="none" stroke-width="0" />
<circle cx="481.60" cy="611.30" r="2.3" fill="#000" stroke="none" stroke-width="0" />
<circle cx="490.30" cy="616.00" r="2.3" fill="#000" stroke="none" stroke-width="0" />
<circle cx="532.50" cy="606.50" r="2.3" fill="#000" stroke="none" stroke-width="0" />
<circle cx="521.50" cy="610.10" r="2.3" fill="#000" stroke="none" stroke-width="0" />
<circle cx="526.30" cy="612.80" r="2.3" fill="#000" stroke="none" stroke-width="0" />
<circle cx="556.70" cy="606.00" r="2.3" fill="#000" stroke="none" stroke-width="0" />
<circle cx="554.70" cy="614.50" r="2.3" fill="#000" stroke="none" stroke-width="0" />
<circle cx="583.10" cy="611.00" r="2.3" fill="#000" stroke="none" stroke-width="0" />
<circle cx="534.50" cy="618.60" r="2.3" fill="#000" stroke="none" stroke-width="0" />
<circle cx="584.60" cy="627.50" r="2.3" fill="#000" stroke="none" stroke-width="0" />
<circle cx="534.00" cy="632.30" r="2.3" fill="#000" stroke="none" stroke-width="0" />
<circle cx="565.00" cy="632.80" r="2.3" fill="#000" stroke="none" stroke-width="0" />
<circle cx="522.10" cy="639.00" r="2.3" fill="#000" stroke="none" stroke-width="0" />
<circle cx="544.60" cy="637.60" r="2.3" fill="#000" stroke="none" stroke-width="0" />
<circle cx="538.00" cy="643.50" r="2.3" fill="#000" stroke="none" stroke-width="0" />
<circle cx="565.00" cy="643.50" r="2.3" fill="#000" stroke="none" stroke-width="0" />
<circle cx="558.30" cy="647.40" r="2.3" fill="#000" stroke="none" stroke-width="0" />
<circle cx="580.70" cy="645.10" r="2.3" fill="#000" stroke="none" stroke-width="0" />
<circle cx="579.20" cy="648.30" r="2.3" fill="#000" stroke="none" stroke-width="0" />
<circle cx="559.20" cy="675.80" r="2.3" fill="#000" stroke="none" stroke-width="0" />
<circle cx="518.30" cy="681.50" r="2.3" fill="#000" stroke="none" stroke-width="0" />
<path d="M406.80,577.98 L412.16,577.90 L417.52,577.82 L422.88,577.73 L428.24,577.63 L433.60,577.52 L438.96,577.40 L444.32,577.27 L449.68,577.12 L455.04,576.95 L460.40,576.77 L465.76,576.55 L471.12,576.31 L476.48,576.04 L481.84,575.72 L487.20,575.35 L492.56,574.91 L497.92,574.41 L503.28,573.82 L508.64,573.12 L514.00,572.31 L519.36,571.36 L524.72,570.26 L530.08,569.02 L535.44,567.63 L540.80,566.09 L546.16,564.42 L551.52,562.63 L556.88,560.74 L562.24,558.77 L567.60,556.73 L572.96,554.62 L578.32,552.47 L583.68,550.28 L589.04,548.05 L594.40,545.79 L599.76,543.51 L605.12,541.21 L610.48,538.89 L615.84,536.55 L621.20,534.21 L621.20,581.97 L615.84,582.09 L610.48,582.22 L605.12,582.36 L599.76,582.53 L594.40,582.71 L589.04,582.92 L583.68,583.16 L578.32,583.43 L572.96,583.74 L567.60,584.10 L562.24,584.53 L556.88,585.02 L551.52,585.60 L546.16,586.28 L540.80,587.07 L535.44,588.00 L530.08,589.07 L524.72,590.29 L519.36,591.66 L514.00,593.18 L508.64,594.83 L503.28,596.60 L497.92,598.48 L492.56,600.44 L487.20,602.47 L481.84,604.57 L476.48,606.71 L471.12,608.90 L465.76,611.12 L460.40,613.38 L455.04,615.66 L449.68,617.95 L444.32,620.27 L438.96,622.60 L433.60,624.95 L428.24,627.31 L422.88,629.67 L417.52,632.05 L412.16,634.43 L406.80,636.82 Z" fill="#4a4a4a" fill-opacity="0.535"/>
<line x1="406.80" y1="607.40" x2="621.20" y2="558.09" stroke="#000" stroke-width="2.8" />
<text transform="translate(371.60,604.10) rotate(-90)" x="0" y="0" font-size="14.0" font-weight="normal" fill="#000" text-anchor="middle" textLength="110.50" lengthAdjust="spacingAndGlyphs" stroke="#000" stroke-width="0.7">CFMT correct (#)</text>
<text x="427.90" y="740.30" font-size="14.4" font-weight="normal" fill="#000" text-anchor="start" textLength="166.40" lengthAdjust="spacingAndGlyphs" stroke="#000" stroke-width="0.7">Car Horizontal Preference</text>
</svg>
</body></html>
